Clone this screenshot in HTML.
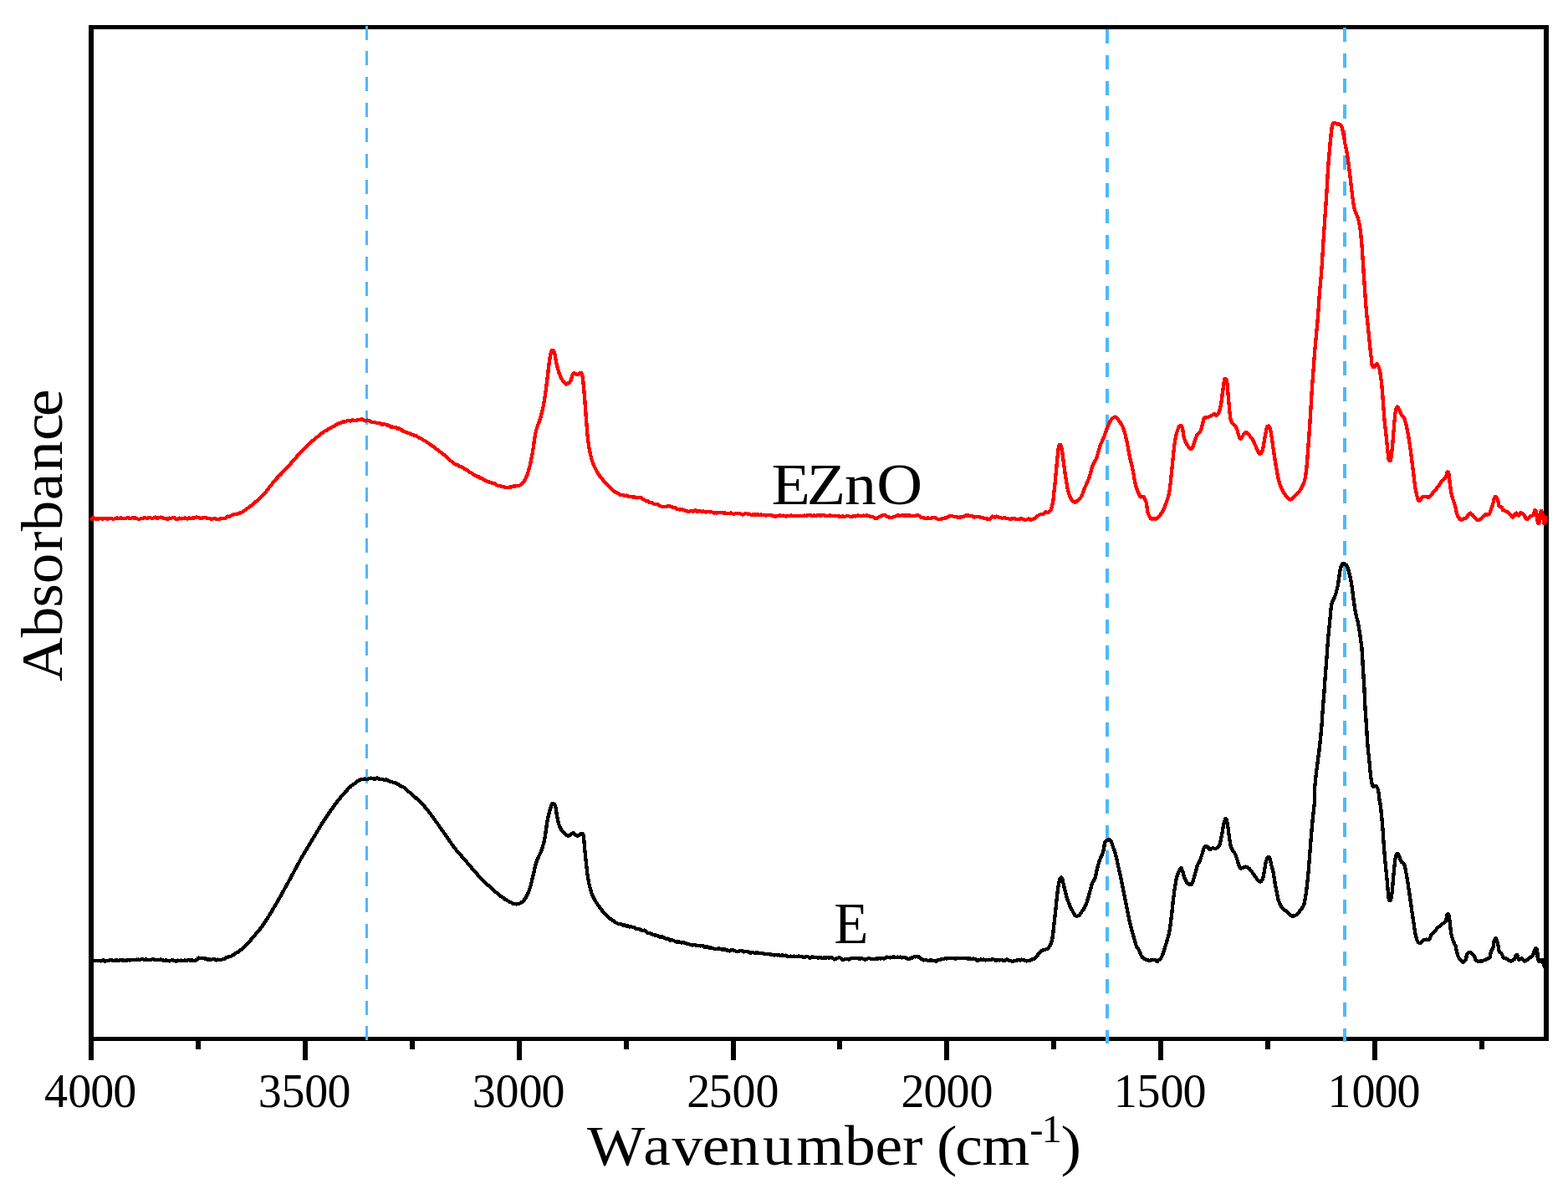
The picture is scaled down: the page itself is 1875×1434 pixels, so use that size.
<!DOCTYPE html>
<html lang="en">
<head>
<meta charset="utf-8">
<title>FTIR absorbance spectra of E and EZnO</title>
<style>
html,body{margin:0;padding:0;background:#fff;}
body{width:1875px;height:1434px;overflow:hidden;}
svg{display:block;}
text{font-family:"Liberation Serif","DejaVu Serif",serif;fill:#000;}
</style>
</head>
<body>
<svg width="1875" height="1434" viewBox="0 0 1875 1434">
<rect x="0" y="0" width="1875" height="1434" fill="#ffffff"/>
<g fill="#000" shape-rendering="crispEdges">
<rect x="106" y="30" width="1746" height="5"/>
<rect x="106" y="1240" width="1746" height="5"/>
<rect x="106" y="30" width="6" height="1215"/>
<rect x="1846" y="30" width="6" height="1215"/>
<rect x="106.00" y="1242" width="6" height="26.00"/>
<rect x="234.00" y="1242" width="6" height="13.00"/>
<rect x="362.00" y="1242" width="6" height="26.00"/>
<rect x="490.00" y="1242" width="6" height="13.00"/>
<rect x="618.00" y="1242" width="6" height="26.00"/>
<rect x="746.00" y="1242" width="6" height="13.00"/>
<rect x="874.00" y="1242" width="6" height="26.00"/>
<rect x="1001.00" y="1242" width="6" height="13.00"/>
<rect x="1129.00" y="1242" width="6" height="26.00"/>
<rect x="1257.00" y="1242" width="6" height="13.00"/>
<rect x="1385.00" y="1242" width="6" height="26.00"/>
<rect x="1513.00" y="1242" width="6" height="13.00"/>
<rect x="1641.00" y="1242" width="6" height="26.00"/>
<rect x="1769.00" y="1242" width="6" height="13.00"/>
</g>
<g stroke="#4db9ff" fill="none" stroke-dasharray="17 13.687" shape-rendering="crispEdges">
<line x1="438.5" y1="30.5" x2="438.5" y2="1244" stroke-width="3"/>
<line x1="1324" y1="35.3" x2="1324" y2="1248" stroke-width="4"/>
<line x1="1608" y1="33" x2="1608" y2="1246" stroke-width="4"/>
</g>
<defs>
<path id="c-ezno" d="M108.1 621.6L109.1 621.2L110.1 620.6L111.1 619.5L112.1 619.4L113.1 620.3L114.1 620.5L115.1 620.6L116.1 620.6L117.1 620.5L118.1 620.5L119.1 620.1L120.1 619.8L121.1 620.1L122.1 620.7L123.1 620.7L124.1 620.1L125.1 619.9L126.1 620.0L127.1 620.4L128.1 620.9L129.1 620.5L130.1 620.1L131.1 620.3L132.1 620.2L133.1 619.8L134.1 620.2L135.1 620.8L136.1 620.7L137.1 620.1L138.1 619.8L139.1 619.6L140.1 619.6L141.1 620.2L142.1 620.3L143.1 619.8L144.1 619.4L145.1 619.6L146.1 620.1L147.1 620.0L148.1 619.9L149.1 620.2L150.1 620.2L151.1 619.7L152.1 619.3L153.1 619.2L154.1 619.4L155.1 620.0L156.1 620.2L157.1 619.7L158.1 619.2L159.1 619.1L160.1 619.5L161.1 619.6L162.1 619.6L163.1 619.7L164.1 620.3L165.1 620.9L166.1 621.0L167.1 620.6L168.1 620.2L169.1 619.9L170.1 619.9L171.1 619.8L172.1 619.5L173.1 619.2L174.1 619.4L175.1 619.8L176.1 619.8L177.1 619.4L178.1 619.2L179.1 619.1L180.1 619.4L181.1 619.8L182.1 619.8L183.1 619.6L184.1 619.2L185.1 618.6L186.1 618.8L187.1 619.6L188.1 619.9L189.1 619.3L190.1 619.1L191.1 619.1L192.1 618.6L193.1 618.7L194.1 619.2L195.1 619.6L196.1 620.0L197.1 620.3L198.1 620.2L199.1 620.4L200.1 621.0L201.1 620.5L202.1 619.6L203.1 619.8L204.1 620.1L205.1 619.6L206.1 619.2L207.1 619.2L208.1 619.2L209.1 619.6L210.1 620.4L211.1 621.2L212.1 621.1L213.1 620.2L214.1 619.6L215.1 620.0L216.1 620.4L217.1 620.4L218.1 620.1L219.1 619.8L220.1 619.8L221.1 619.5L222.1 619.8L223.1 620.4L224.1 620.7L225.1 620.3L226.1 619.5L227.1 619.8L228.1 620.1L229.1 619.8L230.0 619.5L231.0 619.3L232.0 619.4L233.0 619.3L234.0 618.6L235.0 618.5L236.0 618.6L237.0 618.8L238.0 619.3L239.0 619.5L240.0 619.9L241.0 619.9L242.0 619.5L243.0 619.1L244.0 618.9L245.0 618.9L246.0 619.3L247.0 619.6L248.0 619.7L249.0 619.9L250.0 620.0L251.0 619.9L252.0 620.2L253.0 621.0L253.9 621.0L254.9 620.3L255.9 620.0L256.9 620.1L257.9 620.5L258.9 621.1L259.9 621.2L260.9 621.3L261.9 621.2L262.9 620.4L263.9 619.9L264.9 620.1L265.9 620.1L266.9 619.8L267.9 619.8L268.8 619.9L269.8 619.6L270.8 619.0L271.7 618.0L272.7 617.6L273.7 617.8L274.6 617.7L275.6 617.1L276.5 616.5L277.5 616.1L278.4 615.7L279.4 615.5L280.3 615.3L281.3 615.1L282.2 614.9L283.2 614.9L284.1 614.5L285.0 614.3L286.0 613.9L286.9 613.4L287.8 613.2L288.8 613.0L289.6 612.5L290.5 611.9L291.4 611.3L292.3 610.6L293.1 610.1L293.9 609.5L294.7 608.6L295.6 607.9L296.4 607.5L297.2 607.1L298.0 606.4L298.8 605.7L299.6 605.2L300.4 604.7L301.1 604.1L301.9 603.5L302.7 602.8L303.5 602.1L304.2 601.4L305.0 600.9L305.8 600.2L306.5 599.6L307.3 599.0L308.0 598.5L308.8 597.8L309.5 597.1L310.2 596.3L311.0 595.6L311.7 594.8L312.4 594.1L313.1 593.3L313.8 592.7L314.5 592.0L315.2 591.3L315.9 590.6L316.5 589.8L317.2 589.1L317.8 588.3L318.5 587.6L319.1 586.8L319.7 586.0L320.3 585.2L320.9 584.4L321.5 583.6L322.1 582.8L322.7 582.0L323.4 581.2L324.0 580.4L324.6 579.7L325.2 578.9L325.8 578.1L326.5 577.3L327.1 576.6L327.8 575.8L328.4 575.0L329.1 574.2L329.7 573.4L330.4 572.7L331.1 571.9L331.8 571.2L332.5 570.5L333.1 569.8L333.8 569.1L334.5 568.5L335.2 567.8L335.9 567.1L336.6 566.3L337.3 565.6L338.0 564.9L338.7 564.2L339.4 563.4L340.1 562.7L340.8 561.9L341.5 561.2L342.1 560.5L342.8 559.8L343.5 559.1L344.2 558.3L344.9 557.5L345.5 556.8L346.2 556.0L346.9 555.3L347.6 554.6L348.2 553.8L348.9 553.1L349.5 552.3L350.2 551.6L350.8 550.9L351.5 550.1L352.2 549.4L352.8 548.6L353.5 547.8L354.1 547.0L354.8 546.3L355.4 545.6L356.1 544.8L356.8 544.0L357.4 543.3L358.1 542.5L358.7 541.8L359.4 541.1L360.1 540.4L360.8 539.6L361.5 538.9L362.1 538.1L362.8 537.5L363.5 536.8L364.2 536.0L364.9 535.3L365.7 534.6L366.4 533.8L367.1 533.1L367.8 532.4L368.5 531.7L369.2 531.1L370.0 530.5L370.7 529.6L371.5 528.8L372.2 528.1L372.9 527.7L373.7 527.1L374.5 526.6L375.2 526.0L376.0 525.4L376.7 524.6L377.5 523.9L378.3 523.3L379.1 522.8L379.9 522.3L380.6 521.6L381.4 520.8L382.2 519.9L383.0 519.2L383.8 518.6L384.7 518.1L385.5 517.7L386.3 517.2L387.1 516.6L387.9 515.9L388.8 515.4L389.6 515.1L390.5 514.7L391.3 514.1L392.2 513.4L393.0 513.0L393.9 512.5L394.7 512.1L395.6 511.7L396.5 511.2L397.4 510.6L398.2 510.1L399.1 509.8L400.0 509.5L400.9 508.9L401.8 508.2L402.7 507.6L403.6 507.1L404.5 506.7L405.5 506.5L406.4 506.3L407.3 506.0L408.3 505.5L409.2 504.9L410.2 504.4L411.2 504.5L412.2 504.7L413.1 504.3L414.1 503.6L415.1 503.2L416.1 502.7L417.1 502.7L418.1 503.4L419.1 503.6L420.1 502.9L421.1 502.4L422.0 502.4L423.0 502.9L424.0 502.9L425.0 503.1L426.0 503.4L427.0 502.8L428.0 501.8L429.0 501.7L430.0 501.8L431.0 501.7L432.0 501.3L433.0 501.4L434.0 502.0L435.0 502.6L436.0 503.0L437.0 503.4L438.0 503.4L439.0 502.6L440.0 502.6L441.0 503.4L442.0 503.6L442.9 503.7L443.9 504.5L444.9 505.2L445.9 505.3L446.9 505.0L447.8 505.0L448.8 505.3L449.8 505.7L450.8 506.0L451.7 506.1L452.7 505.9L453.7 505.8L454.7 506.5L455.6 507.4L456.6 507.7L457.6 507.6L458.5 507.3L459.5 507.2L460.5 507.4L461.4 508.0L462.4 508.5L463.4 508.6L464.3 508.5L465.3 508.9L466.3 509.9L467.2 510.6L468.2 510.5L469.2 510.6L470.1 510.9L471.1 511.1L472.0 511.0L473.0 510.9L473.9 511.7L474.9 512.6L475.9 512.8L476.8 512.6L477.8 512.6L478.7 513.1L479.7 513.6L480.6 514.1L479.6 514.0L479.6 514.4L480.5 514.8L481.4 515.3L482.4 515.6L483.3 515.9L484.3 516.3L485.2 516.9L486.1 517.3L487.1 517.6L488.0 517.6L489.0 517.8L489.9 518.3L490.9 518.9L491.8 519.4L492.7 519.7L493.7 519.9L494.6 520.2L495.5 520.6L496.4 520.8L497.3 521.0L498.2 521.6L499.1 522.3L500.0 522.9L500.8 523.3L501.7 523.7L502.6 524.0L503.5 524.5L504.3 525.2L505.2 525.9L506.0 526.4L506.9 526.7L507.7 527.0L508.6 527.5L509.4 528.2L510.3 528.8L511.1 529.2L511.9 529.7L512.8 530.2L513.6 530.8L514.4 531.4L515.2 532.2L516.1 533.0L516.9 533.5L517.7 533.9L518.5 534.3L519.3 534.8L520.1 535.5L520.9 536.2L521.7 536.9L522.5 537.5L523.3 538.1L524.1 538.8L524.9 539.5L525.7 540.1L526.5 540.5L527.3 540.9L528.1 541.6L528.8 542.5L529.6 543.1L530.4 543.7L531.2 544.2L532.0 544.8L532.8 545.4L533.5 546.1L534.3 546.7L535.0 547.4L535.8 548.0L536.5 548.6L537.2 549.3L538.0 550.1L538.8 550.9L539.5 551.5L540.3 552.1L541.2 552.9L542.0 553.7L542.8 554.2L543.7 554.8L544.6 555.2L545.4 555.6L546.3 556.0L547.2 556.1L548.1 556.3L549.0 557.2L549.8 558.0L550.7 558.2L551.6 558.5L552.5 558.7L553.4 559.1L554.3 559.7L555.1 560.4L556.0 560.9L556.9 561.6L557.7 562.1L558.6 562.3L559.4 562.6L560.3 563.3L561.1 564.2L562.0 565.0L562.8 565.2L563.7 565.5L564.5 566.2L565.4 567.0L566.2 567.5L567.1 567.8L567.9 568.1L568.8 568.8L569.6 569.6L570.5 570.2L571.4 570.5L572.2 570.4L573.1 570.6L574.0 571.5L574.9 571.9L575.8 571.9L576.7 572.5L577.7 573.3L578.6 573.8L579.5 574.2L580.4 574.7L581.3 575.1L582.3 575.6L583.2 575.9L584.1 576.3L585.1 576.6L586.0 576.7L587.0 577.1L587.9 577.6L588.8 577.7L589.8 577.7L590.7 577.9L591.7 578.5L592.6 579.4L593.5 580.1L594.5 580.6L595.4 580.8L596.3 580.9L597.3 580.9L598.2 581.1L599.2 581.5L600.1 581.9L601.1 582.2L602.1 582.1L603.0 582.5L604.0 582.8L605.0 582.7L606.0 582.8L607.0 583.1L608.0 583.1L609.0 582.8L610.0 582.5L611.0 582.4L612.0 582.4L613.0 581.9L614.0 581.2L614.9 581.4L615.9 581.7L616.9 581.3L617.9 580.9L618.8 581.0L619.8 581.0L620.8 580.8L621.7 580.4L622.6 579.8L623.5 579.1L624.3 578.4L625.0 577.7L625.7 577.0L626.3 576.2L626.9 575.3L627.4 574.5L627.9 573.6L628.4 572.7L628.8 571.8L629.2 570.9L629.6 570.0L630.0 569.1L630.4 568.1L630.7 567.2L631.0 566.3L631.3 565.3L631.6 564.3L631.9 563.4L632.2 562.4L632.4 561.5L632.7 560.5L633.0 559.5L633.2 558.6L633.5 557.6L633.7 556.6L633.9 555.7L634.2 554.7L634.4 553.7L634.6 552.7L634.8 551.8L635.0 550.8L635.2 549.8L635.4 548.8L635.6 547.8L635.8 546.8L636.0 545.9L636.2 544.9L636.3 543.9L636.5 542.9L636.7 541.9L636.9 540.9L637.0 540.0L637.2 539.0L637.3 538.0L637.5 537.0L637.6 536.0L637.8 535.0L637.9 534.0L638.0 533.0L638.2 532.0L638.3 531.0L638.4 530.1L638.6 529.1L638.7 528.1L638.8 527.1L639.0 526.1L639.1 525.1L639.3 524.1L639.4 523.1L639.6 522.1L639.8 521.2L639.9 520.2L640.1 519.2L640.3 518.2L640.6 517.2L640.8 516.3L641.1 515.3L641.3 514.3L641.6 513.4L641.9 512.4L642.2 511.5L642.5 510.5L642.9 509.6L643.2 508.6L643.5 507.7L643.9 506.8L644.2 505.8L644.5 504.9L644.9 503.9L645.2 503.0L645.5 502.0L645.8 501.1L646.1 500.1L646.4 499.2L646.6 498.2L646.9 497.2L647.1 496.3L647.4 495.3L647.6 494.3L647.9 493.4L648.1 492.4L648.4 491.4L648.6 490.4L648.8 489.5L649.0 488.5L649.2 487.5L649.5 486.5L649.7 485.6L649.9 484.6L650.0 483.6L650.2 482.6L650.4 481.6L650.6 480.6L650.8 479.7L650.9 478.7L651.1 477.7L651.3 476.7L651.4 475.7L651.6 474.7L651.7 473.7L651.9 472.7L652.0 471.8L652.2 470.8L652.3 469.8L652.4 468.8L652.6 467.8L652.7 466.8L652.9 465.8L653.0 464.8L653.1 463.8L653.2 462.8L653.4 461.8L653.5 460.9L653.6 459.9L653.8 458.9L653.9 457.9L654.0 456.9L654.1 455.9L654.3 454.9L654.4 453.9L654.5 452.9L654.6 451.9L654.7 450.9L654.9 449.9L655.0 448.9L655.1 448.0L655.2 447.0L655.3 446.0L655.4 445.0L655.5 444.0L655.6 443.0L655.7 442.0L655.8 441.0L655.9 440.0L656.1 439.0L656.2 438.0L656.3 437.0L656.4 436.0L656.5 435.0L656.7 434.0L656.8 433.1L656.9 432.1L657.1 431.1L657.2 430.1L657.4 429.1L657.5 428.1L657.7 427.1L657.9 426.1L658.1 425.2L658.2 424.2L658.4 423.2L658.7 422.2L658.9 421.2L659.2 420.3L659.5 419.3L660.3 418.7L661.2 419.0L661.9 419.7L662.4 420.6L662.7 421.5L663.0 422.4L663.3 423.4L663.5 424.4L663.7 425.4L663.9 426.4L664.0 427.3L664.2 428.3L664.4 429.3L664.6 430.3L664.7 431.3L664.9 432.3L665.1 433.2L665.3 434.2L665.5 435.2L665.7 436.2L665.9 437.2L666.2 438.1L666.5 439.1L666.7 440.1L667.0 441.0L667.3 442.0L667.6 442.9L667.9 443.9L668.2 444.8L668.5 445.8L668.9 446.7L669.2 447.7L669.6 448.6L670.0 449.5L670.3 450.4L670.8 451.3L671.2 452.2L671.7 453.1L672.2 454.0L672.7 454.8L673.3 455.6L673.9 456.4L674.6 457.2L675.3 458.0L676.0 458.9L677.0 459.5L678.0 459.4L678.9 458.8L679.8 458.2L680.6 457.5L681.3 456.8L681.9 456.0L682.4 455.1L682.8 454.2L683.2 453.3L683.4 452.3L683.7 451.4L684.0 450.4L684.2 449.4L684.5 448.5L684.9 447.6L685.5 446.7L686.4 446.2L687.3 446.3L688.2 446.9L688.9 447.6L689.8 447.9L690.7 448.0L691.6 448.1L692.3 447.5L692.9 446.7L693.6 446.1L694.5 445.9L695.4 446.3L695.8 447.1L696.1 448.1L696.3 449.1L696.5 450.0L696.7 451.0L696.8 452.0L697.0 453.0L697.1 454.0L697.2 455.0L697.3 456.0L697.4 457.0L697.5 458.0L697.6 459.0L697.7 460.0L697.8 461.0L697.9 462.0L698.0 463.0L698.1 464.0L698.2 465.0L698.3 465.9L698.3 466.9L698.4 467.9L698.5 468.9L698.6 469.9L698.7 470.9L698.8 471.9L698.9 472.9L698.9 473.9L699.0 474.9L699.1 475.9L699.2 476.9L699.2 477.9L699.3 478.9L699.4 479.9L699.4 480.9L699.5 481.9L699.6 482.9L699.7 483.9L699.7 484.9L699.8 485.9L699.9 486.9L699.9 487.9L700.0 488.9L700.1 489.9L700.2 490.9L700.2 491.9L700.3 492.9L700.4 493.9L700.5 494.9L700.5 495.9L700.6 496.9L700.7 497.9L700.8 498.9L700.8 499.8L700.9 500.8L701.0 501.8L701.1 502.8L701.1 503.8L701.2 504.8L701.3 505.8L701.4 506.8L701.4 507.8L701.5 508.8L701.6 509.8L701.7 510.8L701.7 511.8L701.8 512.8L701.9 513.8L702.0 514.8L702.1 515.8L702.1 516.8L702.2 517.8L702.3 518.8L702.4 519.8L702.5 520.8L702.6 521.8L702.7 522.8L702.8 523.8L702.9 524.8L703.1 525.8L703.2 526.7L703.3 527.7L703.4 528.7L703.6 529.7L703.7 530.7L703.9 531.7L704.0 532.7L704.2 533.7L704.3 534.7L704.5 535.6L704.7 536.6L704.8 537.6L705.0 538.6L705.2 539.6L705.4 540.6L705.6 541.5L705.8 542.5L706.0 543.5L706.2 544.5L706.5 545.4L706.7 546.4L707.0 547.4L707.2 548.4L707.5 549.3L707.8 550.3L708.1 551.2L708.4 552.2L708.7 553.1L709.1 554.1L709.4 555.0L709.8 555.9L710.2 556.8L710.6 557.7L711.0 558.7L711.5 559.6L711.9 560.4L712.4 561.3L712.9 562.2L713.3 563.1L713.8 564.0L714.3 564.8L714.9 565.7L715.4 566.5L715.9 567.4L716.5 568.2L717.0 569.0L717.6 569.9L718.2 570.7L718.8 571.5L719.4 572.2L720.1 573.0L720.7 573.7L721.4 574.5L722.0 575.2L722.7 575.9L723.4 576.7L724.1 577.5L724.7 578.2L725.4 579.0L726.1 579.7L726.7 580.4L727.4 581.2L728.1 581.8L728.8 582.5L729.5 583.3L730.2 584.1L731.0 584.8L731.7 585.4L732.5 586.1L733.3 586.8L734.1 587.6L734.9 588.1L735.7 588.5L736.6 588.8L737.4 589.1L738.3 589.6L739.1 590.1L740.0 590.9L740.9 591.6L741.9 592.0L742.8 592.2L743.8 592.2L744.8 592.0L745.7 592.2L746.7 592.8L747.7 593.1L748.7 592.8L749.7 592.6L750.7 593.2L751.7 593.8L752.7 594.0L753.7 594.0L754.7 593.7L755.7 594.0L756.7 594.6L757.6 594.5L758.6 594.3L759.6 594.6L760.5 595.2L761.5 595.4L762.5 595.2L763.4 595.1L764.4 595.2L765.3 595.1L766.3 595.1L767.2 595.6L768.1 596.4L769.1 597.1L770.0 597.7L771.0 598.1L771.9 598.8L772.8 599.4L773.8 599.3L774.7 599.4L775.6 600.3L776.5 601.2L777.5 601.3L778.4 600.9L779.3 601.0L780.2 601.7L781.2 602.4L782.1 602.8L783.0 602.9L784.0 603.1L784.9 603.3L785.9 603.2L786.8 603.4L787.8 604.4L788.8 604.8L789.8 605.0L790.8 605.6L791.8 606.0L792.8 605.9L793.8 605.9L794.7 605.9L795.7 606.1L796.7 606.3L797.7 605.9L798.3 605.3L799.3 605.1L800.3 605.4L801.2 605.6L802.2 605.9L803.2 606.3L804.2 606.5L805.2 606.9L806.1 606.9L807.1 606.8L808.1 607.7L809.1 609.0L810.0 609.1L811.0 608.7L812.0 609.3L813.0 609.5L814.0 608.9L814.9 609.0L815.9 609.7L816.9 609.8L817.9 609.9L818.9 610.5L819.9 610.7L820.9 611.0L821.9 611.5L822.8 611.6L823.8 611.8L824.8 611.4L825.8 610.9L826.8 611.0L827.8 611.4L828.8 611.6L829.8 611.2L830.8 610.6L831.8 610.5L832.8 611.1L833.8 611.9L834.8 611.9L835.8 611.1L836.8 611.1L837.8 611.5L838.8 611.8L839.8 611.9L840.8 611.6L841.8 611.6L842.8 612.3L843.8 612.7L844.8 612.4L845.7 612.2L846.7 612.0L847.7 612.0L848.7 612.3L849.7 612.4L850.7 612.1L851.7 612.5L852.7 613.3L853.7 613.5L854.7 613.3L855.7 613.3L856.7 613.6L857.7 613.5L858.7 613.0L859.7 612.8L860.7 613.0L861.7 613.3L862.7 613.2L863.7 613.0L864.7 613.5L865.7 613.7L866.7 613.5L867.7 613.8L868.7 614.2L869.7 614.3L870.7 614.2L871.7 614.1L872.7 613.8L873.7 613.5L874.7 613.6L875.7 614.2L876.7 614.6L877.7 614.7L878.7 614.4L879.7 614.0L880.7 614.2L881.7 614.3L882.7 614.1L883.7 614.1L884.7 614.3L885.7 614.6L886.7 615.0L887.7 615.5L888.7 615.4L889.7 614.9L890.7 614.5L891.7 614.2L892.7 614.2L893.7 614.6L894.7 614.7L895.7 614.5L896.7 615.0L897.7 615.7L898.7 615.7L899.7 615.5L900.7 615.5L901.7 615.4L902.7 615.4L903.7 615.8L904.7 615.8L905.7 615.2L906.7 615.1L907.7 616.0L908.7 616.3L909.6 615.6L910.6 615.6L911.6 616.1L912.6 615.9L913.6 615.7L914.6 616.2L915.6 616.6L916.6 616.4L917.6 616.3L918.6 616.2L919.6 616.2L920.6 616.2L921.6 616.0L922.6 616.3L923.6 616.8L924.6 617.0L925.6 617.3L926.6 617.6L927.6 617.7L928.6 617.4L929.6 617.0L930.6 616.8L931.6 616.6L932.6 616.4L933.6 616.7L934.6 617.2L935.6 617.1L936.6 616.6L937.6 616.7L938.6 617.2L939.6 617.4L940.6 617.4L941.6 617.1L942.6 616.9L943.6 616.9L944.6 616.7L945.6 616.5L946.6 616.7L947.6 617.0L948.6 617.1L949.6 616.9L950.6 616.9L951.6 617.0L952.6 616.9L953.6 616.7L954.6 616.8L955.6 616.9L956.6 616.9L957.6 617.1L958.6 617.3L959.6 617.3L960.6 616.8L961.6 616.4L962.6 616.6L963.6 616.9L964.6 616.8L965.6 616.2L966.6 616.0L967.6 616.1L968.6 616.2L969.6 616.2L970.6 616.7L971.6 616.9L972.6 616.6L973.6 616.4L974.6 616.6L975.6 617.0L976.6 616.7L977.6 616.1L978.6 615.9L979.6 616.3L980.6 616.8L981.6 616.8L982.6 616.2L983.6 615.9L984.6 616.1L985.6 616.5L986.6 616.6L987.6 616.7L988.6 617.0L989.6 617.2L990.6 617.0L991.6 616.5L992.6 616.4L993.6 616.8L994.6 616.9L995.6 616.9L996.6 616.9L997.6 616.9L998.6 617.0L999.6 617.2L1000.6 617.3L1001.6 617.2L1002.6 617.3L1003.6 617.6L1004.6 617.6L1005.6 617.9L1006.6 617.8L1007.6 617.1L1008.6 617.5L1009.6 618.2L1010.6 617.9L1011.6 617.5L1012.6 617.2L1013.6 616.9L1014.6 617.1L1015.6 617.6L1016.6 617.8L1017.6 618.1L1018.6 618.3L1019.6 617.5L1020.6 616.7L1020.4 616.8L1021.4 616.7L1022.4 617.3L1023.4 617.6L1024.4 617.2L1025.4 616.6L1026.4 616.6L1027.4 617.1L1028.4 617.2L1029.4 616.7L1030.4 616.8L1031.4 616.9L1032.4 616.6L1033.4 616.7L1034.4 617.0L1035.4 616.7L1036.4 616.4L1037.4 616.7L1038.4 617.0L1039.3 617.1L1040.3 617.5L1041.3 618.0L1042.2 617.9L1043.1 617.8L1044.1 618.2L1045.0 618.8L1045.9 619.4L1046.9 620.1L1047.9 620.2L1048.9 619.4L1049.8 618.8L1050.7 618.5L1051.6 618.2L1052.4 617.8L1053.2 617.4L1054.1 616.9L1055.0 616.5L1056.0 616.3L1057.0 616.0L1058.0 616.0L1058.9 616.6L1059.9 617.3L1060.8 617.9L1061.7 618.3L1062.7 618.5L1063.6 618.6L1064.6 618.7L1065.6 618.9L1066.6 618.9L1067.5 618.5L1068.4 618.0L1069.4 617.7L1070.3 617.6L1071.3 617.3L1072.3 616.8L1073.3 616.5L1074.3 616.3L1075.3 616.6L1076.3 617.0L1077.3 616.6L1078.3 616.1L1079.3 616.3L1080.3 616.5L1081.3 616.3L1082.3 616.5L1083.3 616.8L1084.3 616.5L1085.3 616.5L1086.3 616.5L1087.3 616.4L1088.3 616.5L1089.3 616.8L1090.3 616.7L1091.3 616.7L1092.3 617.0L1093.3 617.3L1094.3 617.3L1095.3 616.8L1096.3 616.3L1097.3 616.1L1098.3 616.3L1099.3 616.9L1100.2 617.5L1100.8 618.2L1101.5 618.9L1102.5 619.0L1103.5 619.2L1104.5 619.4L1105.5 619.5L1106.5 620.0L1107.5 620.2L1108.5 619.7L1109.5 619.4L1110.5 619.8L1111.5 620.2L1112.5 620.2L1113.5 619.8L1114.5 619.1L1115.5 618.7L1116.5 618.7L1117.5 618.9L1118.5 619.3L1119.5 619.9L1120.5 620.5L1121.4 620.9L1122.4 620.8L1123.4 620.7L1124.4 621.0L1125.4 621.0L1126.4 620.4L1127.4 620.0L1128.4 620.1L1129.3 619.9L1130.2 619.5L1131.2 619.4L1132.1 619.3L1133.0 618.6L1133.9 618.0L1134.9 617.6L1135.9 617.2L1136.9 617.1L1137.9 617.1L1138.9 617.2L1139.9 617.6L1140.9 618.1L1141.9 618.4L1142.9 618.3L1143.9 618.0L1144.9 618.3L1145.8 618.8L1146.8 618.9L1147.8 618.5L1148.8 618.4L1149.8 618.4L1150.8 618.1L1151.8 617.9L1152.8 617.7L1153.7 617.0L1154.7 616.4L1155.7 616.5L1156.7 616.5L1157.7 616.4L1158.7 616.8L1159.7 617.2L1160.7 617.2L1161.7 616.9L1162.7 617.2L1163.7 618.1L1164.7 618.6L1165.6 618.4L1166.6 617.9L1167.6 618.0L1168.6 618.3L1169.6 618.2L1170.6 618.0L1171.6 618.3L1172.5 618.7L1173.5 618.8L1174.5 619.0L1175.5 619.4L1176.5 619.7L1177.4 619.9L1178.4 620.2L1179.4 620.5L1180.4 620.4L1181.4 620.6L1182.4 621.1L1183.4 621.0L1184.3 620.2L1185.0 619.4L1185.8 618.5L1186.8 617.6L1187.8 618.0L1188.8 618.7L1189.8 618.9L1190.8 618.2L1191.8 617.6L1192.8 617.8L1193.8 618.7L1194.8 619.1L1195.8 618.9L1196.8 619.0L1197.8 619.6L1198.7 619.9L1199.7 619.4L1200.7 618.9L1201.7 619.4L1202.7 620.1L1203.7 620.2L1204.7 619.9L1205.7 620.1L1206.7 620.6L1207.7 620.7L1208.7 620.4L1209.7 620.4L1210.7 620.5L1211.7 620.2L1212.7 620.1L1213.7 620.5L1214.7 620.8L1215.7 621.0L1216.7 621.2L1217.7 621.2L1218.7 620.9L1219.7 620.6L1220.7 620.4L1221.7 620.3L1222.7 620.6L1223.7 620.9L1224.7 621.3L1225.7 621.8L1226.7 621.9L1227.7 621.4L1228.7 620.8L1229.7 620.4L1230.7 620.7L1231.7 621.4L1232.7 621.7L1233.7 621.5L1234.7 621.1L1235.6 620.7L1236.6 620.3L1237.5 619.8L1238.3 619.2L1239.1 618.5L1239.9 617.7L1240.6 617.1L1241.4 616.6L1242.2 616.2L1243.0 615.9L1243.9 615.3L1244.9 614.7L1245.8 614.9L1246.8 615.0L1247.8 614.7L1248.8 613.5L1249.8 612.5L1250.8 612.5L1251.7 613.0L1252.7 613.0L1253.6 612.6L1254.4 612.1L1255.2 611.6L1255.8 610.9L1256.3 610.1L1256.8 609.2L1257.1 608.3L1257.5 607.3L1257.7 606.4L1258.0 605.4L1258.2 604.4L1258.5 603.5L1258.7 602.5L1258.9 601.5L1259.1 600.5L1259.2 599.5L1259.4 598.5L1259.5 597.5L1259.6 596.6L1259.7 595.6L1259.8 594.6L1259.9 593.6L1260.0 592.6L1260.1 591.6L1260.2 590.6L1260.3 589.6L1260.4 588.6L1260.5 587.6L1260.6 586.6L1260.8 585.6L1260.9 584.6L1261.0 583.6L1261.1 582.6L1261.2 581.6L1261.3 580.6L1261.4 579.6L1261.5 578.7L1261.6 577.7L1261.7 576.7L1261.8 575.7L1261.9 574.7L1262.0 573.7L1262.1 572.7L1262.2 571.7L1262.2 570.7L1262.3 569.7L1262.4 568.7L1262.5 567.7L1262.6 566.7L1262.7 565.7L1262.8 564.7L1262.9 563.7L1263.0 562.7L1263.1 561.7L1263.2 560.7L1263.3 559.7L1263.4 558.7L1263.4 557.7L1263.5 556.8L1263.6 555.8L1263.7 554.8L1263.8 553.8L1263.9 552.8L1264.0 551.8L1264.1 550.8L1264.2 549.8L1264.3 548.8L1264.4 547.8L1264.5 546.8L1264.6 545.8L1264.7 544.8L1264.8 543.8L1264.9 542.8L1265.0 541.8L1265.1 540.8L1265.2 539.8L1265.3 538.8L1265.5 537.8L1265.6 536.9L1265.7 535.9L1265.9 534.9L1266.1 533.9L1266.4 532.9L1266.7 532.0L1267.3 531.8L1268.1 531.7L1268.5 532.5L1268.8 533.5L1269.1 534.5L1269.3 535.4L1269.5 536.4L1269.7 537.4L1269.9 538.4L1270.0 539.4L1270.2 540.4L1270.3 541.3L1270.5 542.3L1270.6 543.3L1270.7 544.3L1270.9 545.3L1271.0 546.3L1271.1 547.3L1271.2 548.3L1271.4 549.3L1271.5 550.3L1271.6 551.3L1271.7 552.3L1271.9 553.2L1272.0 554.2L1272.1 555.2L1272.3 556.2L1272.4 557.2L1272.6 558.2L1272.7 559.2L1272.8 560.2L1273.0 561.2L1273.1 562.2L1273.2 563.2L1273.4 564.1L1273.5 565.1L1273.6 566.1L1273.8 567.1L1273.9 568.1L1274.1 569.1L1274.2 570.1L1274.4 571.1L1274.5 572.1L1274.7 573.0L1274.9 574.0L1275.0 575.0L1275.2 576.0L1275.3 577.0L1275.5 578.0L1275.6 579.0L1275.8 580.0L1276.0 580.9L1276.2 581.9L1276.3 582.9L1276.5 583.9L1276.7 584.9L1276.9 585.9L1277.1 586.8L1277.4 587.8L1277.6 588.8L1277.9 589.7L1278.2 590.7L1278.5 591.6L1278.9 592.6L1279.3 593.5L1279.7 594.4L1280.1 595.3L1280.6 596.2L1281.1 597.0L1281.6 597.9L1282.2 598.7L1282.8 599.5L1283.5 600.0L1284.3 600.4L1285.3 600.7L1286.2 600.6L1287.0 600.0L1287.7 599.3L1288.4 598.6L1289.2 598.1L1290.0 597.5L1290.7 596.8L1291.4 596.1L1292.1 595.2L1292.6 594.4L1293.2 593.6L1293.6 592.7L1294.0 591.8L1294.4 590.9L1294.8 589.9L1295.1 589.0L1295.5 588.1L1295.8 587.1L1296.2 586.2L1296.5 585.2L1296.9 584.3L1297.2 583.4L1297.6 582.4L1298.0 581.5L1298.4 580.6L1298.8 579.7L1299.2 578.8L1299.6 577.9L1300.1 577.0L1300.5 576.1L1300.9 575.1L1301.3 574.2L1301.6 573.3L1302.0 572.3L1302.3 571.4L1302.6 570.5L1302.9 569.5L1303.2 568.5L1303.5 567.6L1303.7 566.6L1304.0 565.7L1304.3 564.7L1304.5 563.7L1304.8 562.8L1305.1 561.8L1305.4 560.8L1305.6 559.9L1305.9 558.9L1306.3 558.0L1306.6 557.0L1307.0 556.1L1307.4 555.2L1307.8 554.3L1308.3 553.4L1308.8 552.6L1309.3 551.7L1309.8 550.8L1310.3 549.9L1310.7 549.0L1311.1 548.1L1311.4 547.2L1311.7 546.2L1312.0 545.3L1312.3 544.3L1312.6 543.3L1312.8 542.4L1313.1 541.4L1313.4 540.5L1313.6 539.5L1313.9 538.5L1314.2 537.6L1314.5 536.6L1314.7 535.6L1315.0 534.7L1315.3 533.7L1315.7 532.8L1316.0 531.9L1316.4 530.9L1316.8 530.0L1317.2 529.1L1317.6 528.2L1318.0 527.3L1318.4 526.4L1318.8 525.4L1319.2 524.5L1319.6 523.6L1320.0 522.7L1320.4 521.8L1320.7 520.8L1321.1 519.9L1321.4 518.9L1321.8 518.0L1322.1 517.1L1322.4 516.1L1322.8 515.2L1323.1 514.2L1323.5 513.3L1323.8 512.4L1324.2 511.4L1324.6 510.5L1325.0 509.6L1325.4 508.7L1325.8 507.8L1326.2 506.9L1326.6 506.0L1327.1 505.1L1327.5 504.2L1328.0 503.3L1328.5 502.4L1329.1 501.6L1329.7 500.8L1330.4 500.1L1331.1 499.6L1332.0 499.3L1333.0 498.6L1334.0 498.6L1334.8 499.4L1335.6 500.3L1336.3 501.2L1337.0 501.9L1337.6 502.7L1338.2 503.5L1338.8 504.3L1339.4 505.1L1340.0 505.9L1340.5 506.8L1341.0 507.6L1341.5 508.5L1342.0 509.4L1342.4 510.3L1342.8 511.2L1343.2 512.1L1343.6 513.1L1343.9 514.0L1344.2 514.9L1344.5 515.9L1344.8 516.9L1345.1 517.8L1345.3 518.8L1345.6 519.8L1345.8 520.7L1346.0 521.7L1346.3 522.7L1346.5 523.6L1346.7 524.6L1346.9 525.6L1347.2 526.6L1347.4 527.6L1347.6 528.5L1347.8 529.5L1348.0 530.5L1348.1 531.5L1348.3 532.5L1348.5 533.4L1348.7 534.4L1348.9 535.4L1349.0 536.4L1349.2 537.4L1349.4 538.4L1349.6 539.3L1349.8 540.3L1349.9 541.3L1350.1 542.3L1350.3 543.3L1350.5 544.3L1350.7 545.2L1350.9 546.2L1351.1 547.2L1351.4 548.2L1351.6 549.1L1351.8 550.1L1352.0 551.1L1352.3 552.1L1352.5 553.0L1352.7 554.0L1353.0 555.0L1353.2 556.0L1353.4 556.9L1353.6 557.9L1353.9 558.9L1354.1 559.9L1354.3 560.8L1354.5 561.8L1354.7 562.8L1354.9 563.8L1355.0 564.8L1355.2 565.7L1355.4 566.7L1355.6 567.7L1355.7 568.7L1355.9 569.7L1356.1 570.7L1356.2 571.7L1356.4 572.6L1356.6 573.6L1356.8 574.6L1356.9 575.6L1357.1 576.6L1357.3 577.6L1357.6 578.5L1357.8 579.5L1358.0 580.5L1358.3 581.4L1358.6 582.4L1358.9 583.4L1359.2 584.3L1359.5 585.2L1359.9 586.2L1360.2 587.1L1360.6 588.0L1361.0 589.0L1361.4 589.9L1361.8 590.8L1362.3 591.7L1362.8 592.6L1363.3 593.4L1363.9 594.3L1364.8 594.4L1365.8 593.9L1366.8 593.7L1367.7 594.5L1368.3 595.6L1368.9 596.5L1369.3 597.4L1369.7 598.3L1370.1 599.2L1370.4 600.2L1370.7 601.1L1370.9 602.1L1371.1 603.1L1371.3 604.1L1371.4 605.1L1371.5 606.1L1371.6 607.1L1371.7 608.1L1371.8 609.1L1371.9 610.0L1372.1 611.0L1372.3 612.0L1372.5 613.0L1372.9 613.9L1373.2 614.9L1373.6 615.8L1374.0 616.7L1374.5 617.6L1375.0 618.4L1375.6 619.3L1376.2 620.2L1377.0 620.7L1378.0 620.9L1379.0 620.3L1379.9 620.0L1380.9 620.5L1381.9 620.7L1382.8 620.3L1383.7 619.7L1384.5 619.0L1385.2 618.3L1385.9 617.5L1386.6 616.7L1387.3 615.9L1387.9 615.1L1388.5 614.3L1389.0 613.5L1389.6 612.6L1390.1 611.8L1390.6 610.9L1391.0 610.0L1391.4 609.1L1391.9 608.2L1392.3 607.3L1392.7 606.4L1393.0 605.4L1393.4 604.5L1393.8 603.6L1394.1 602.6L1394.5 601.7L1394.8 600.8L1395.1 599.8L1395.4 598.9L1395.8 597.9L1396.1 597.0L1396.4 596.0L1396.7 595.0L1396.9 594.1L1397.2 593.1L1397.4 592.1L1397.6 591.2L1397.8 590.2L1398.0 589.2L1398.2 588.2L1398.4 587.2L1398.6 586.3L1398.7 585.3L1398.8 584.3L1399.0 583.3L1399.1 582.3L1399.2 581.3L1399.3 580.3L1399.5 579.3L1399.6 578.3L1399.7 577.3L1399.8 576.3L1399.9 575.3L1400.0 574.3L1400.1 573.3L1400.2 572.4L1400.3 571.4L1400.4 570.4L1400.5 569.4L1400.6 568.4L1400.7 567.4L1400.8 566.4L1400.9 565.4L1401.0 564.4L1401.1 563.4L1401.2 562.4L1401.3 561.4L1401.4 560.4L1401.5 559.4L1401.6 558.4L1401.7 557.4L1401.8 556.4L1401.9 555.4L1402.0 554.4L1402.1 553.4L1402.2 552.5L1402.3 551.5L1402.4 550.5L1402.5 549.5L1402.6 548.5L1402.7 547.5L1402.8 546.5L1402.9 545.5L1403.0 544.5L1403.1 543.5L1403.2 542.5L1403.3 541.5L1403.4 540.5L1403.5 539.5L1403.6 538.5L1403.7 537.5L1403.8 536.5L1403.9 535.5L1404.1 534.6L1404.2 533.6L1404.3 532.6L1404.4 531.6L1404.6 530.6L1404.7 529.6L1404.9 528.6L1405.0 527.6L1405.2 526.6L1405.4 525.7L1405.6 524.7L1405.8 523.7L1406.0 522.7L1406.2 521.7L1406.4 520.8L1406.6 519.8L1406.9 518.8L1407.1 517.8L1407.4 516.9L1407.7 515.9L1408.0 515.0L1408.3 514.0L1408.7 513.1L1409.0 512.2L1409.4 511.2L1409.9 510.3L1410.4 509.5L1411.1 509.5L1412.1 509.5L1412.9 509.4L1413.4 510.2L1413.8 511.1L1414.0 512.1L1414.2 513.1L1414.3 514.1L1414.5 515.1L1414.6 516.1L1414.7 517.1L1414.8 518.1L1415.0 519.0L1415.1 520.0L1415.3 521.0L1415.5 522.0L1415.7 523.0L1416.0 523.9L1416.3 524.9L1416.7 525.8L1417.1 526.7L1417.4 527.7L1417.9 528.6L1418.3 529.5L1418.7 530.4L1419.2 531.3L1419.7 532.1L1420.2 533.0L1420.7 533.8L1421.3 534.7L1421.9 535.5L1422.5 536.3L1423.2 536.8L1424.2 536.7L1425.0 536.7L1425.5 535.9L1426.0 535.0L1426.4 534.1L1426.8 533.2L1427.2 532.3L1427.5 531.3L1427.8 530.4L1428.1 529.4L1428.4 528.5L1428.7 527.5L1429.0 526.6L1429.4 525.6L1429.7 524.7L1430.0 523.7L1430.3 522.8L1430.7 521.8L1431.1 520.9L1431.5 520.0L1432.0 519.2L1432.7 518.7L1433.5 518.1L1434.3 517.4L1435.0 516.5L1435.5 515.7L1435.9 514.8L1436.3 513.8L1436.5 512.9L1436.8 511.9L1437.1 510.9L1437.3 510.0L1437.5 509.0L1437.7 508.0L1437.9 507.0L1438.2 506.1L1438.4 505.1L1438.6 504.1L1438.8 503.1L1439.1 502.2L1439.4 501.2L1439.8 500.3L1440.3 499.5L1441.2 499.7L1442.2 499.5L1443.1 498.8L1444.1 498.8L1445.1 498.7L1446.1 498.1L1447.0 498.1L1447.9 497.9L1448.7 497.1L1449.4 496.6L1450.3 496.1L1451.2 495.2L1452.2 495.1L1453.1 495.6L1454.0 496.4L1455.0 496.8L1455.9 496.0L1456.5 495.3L1457.0 494.4L1457.4 493.5L1457.7 492.6L1458.0 491.6L1458.3 490.7L1458.6 489.7L1458.9 488.8L1459.1 487.8L1459.3 486.8L1459.6 485.8L1459.8 484.9L1460.0 483.9L1460.1 482.9L1460.3 481.9L1460.5 480.9L1460.6 479.9L1460.7 478.9L1460.9 477.9L1461.0 477.0L1461.1 476.0L1461.3 475.0L1461.4 474.0L1461.5 473.0L1461.6 472.0L1461.7 471.0L1461.9 470.0L1462.0 469.0L1462.1 468.0L1462.3 467.0L1462.4 466.0L1462.6 465.1L1462.7 464.1L1462.8 463.1L1463.0 462.1L1463.1 461.1L1463.3 460.1L1463.4 459.1L1463.6 458.1L1463.7 457.1L1463.9 456.2L1464.1 455.2L1464.3 454.2L1464.5 453.2L1464.9 452.7L1465.8 452.9L1466.3 453.4L1466.7 454.4L1466.9 455.4L1467.1 456.4L1467.2 457.3L1467.4 458.3L1467.5 459.3L1467.6 460.3L1467.7 461.3L1467.8 462.3L1467.9 463.3L1467.9 464.3L1468.0 465.3L1468.1 466.3L1468.2 467.3L1468.3 468.3L1468.4 469.3L1468.4 470.3L1468.5 471.3L1468.6 472.3L1468.7 473.3L1468.8 474.3L1468.9 475.3L1469.0 476.3L1469.1 477.3L1469.1 478.3L1469.2 479.2L1469.3 480.2L1469.4 481.2L1469.5 482.2L1469.6 483.2L1469.7 484.2L1469.8 485.2L1469.9 486.2L1469.9 487.2L1470.0 488.2L1470.1 489.2L1470.2 490.2L1470.3 491.2L1470.4 492.2L1470.5 493.2L1470.6 494.2L1470.7 495.2L1470.8 496.2L1470.9 497.2L1471.0 498.2L1471.2 499.2L1471.3 500.1L1471.5 501.1L1471.7 502.1L1472.0 503.1L1472.3 504.0L1472.9 504.8L1473.5 505.6L1474.1 506.4L1474.7 507.3L1475.4 508.0L1476.1 508.7L1476.9 509.3L1477.5 510.1L1478.1 510.9L1478.5 511.8L1478.9 512.7L1479.2 513.6L1479.5 514.6L1479.8 515.6L1480.0 516.5L1480.3 517.5L1480.5 518.5L1480.8 519.4L1481.1 520.4L1481.4 521.3L1481.8 522.3L1482.2 523.2L1482.6 524.1L1483.3 525.0L1484.1 524.5L1484.7 523.6L1485.2 522.8L1485.7 521.9L1486.2 521.0L1486.7 520.2L1487.3 519.3L1487.8 518.5L1488.4 517.7L1489.0 517.2L1489.9 516.8L1490.8 517.0L1491.5 517.7L1492.2 518.4L1492.9 519.2L1493.5 520.0L1494.0 520.8L1494.6 521.7L1495.2 522.5L1495.7 523.3L1496.3 524.1L1497.0 524.8L1497.7 525.5L1498.3 526.4L1498.8 527.2L1499.2 528.2L1499.6 529.1L1500.0 530.0L1500.3 530.9L1500.7 531.8L1501.1 532.8L1501.5 533.7L1501.9 534.6L1502.2 535.5L1502.6 536.5L1503.1 537.4L1503.5 538.3L1504.0 539.2L1504.4 540.0L1504.9 540.9L1505.4 541.8L1506.1 542.5L1507.0 542.7L1507.9 542.2L1508.5 541.5L1509.0 540.6L1509.3 539.7L1509.7 538.8L1509.9 537.8L1510.1 536.8L1510.3 535.8L1510.5 534.8L1510.7 533.9L1510.9 532.9L1511.0 531.9L1511.2 530.9L1511.4 529.9L1511.5 528.9L1511.7 527.9L1511.9 527.0L1512.0 526.0L1512.2 525.0L1512.4 524.0L1512.6 523.0L1512.7 522.0L1512.9 521.1L1513.1 520.1L1513.3 519.1L1513.4 518.1L1513.6 517.1L1513.8 516.1L1514.0 515.1L1514.2 514.2L1514.4 513.2L1514.6 512.2L1514.9 511.3L1515.3 510.3L1515.8 509.9L1516.7 509.6L1517.5 509.6L1518.0 510.5L1518.3 511.4L1518.6 512.4L1518.8 513.4L1519.1 514.4L1519.3 515.3L1519.5 516.3L1519.7 517.3L1519.8 518.3L1520.0 519.3L1520.2 520.2L1520.4 521.2L1520.5 522.2L1520.7 523.2L1520.8 524.2L1521.0 525.2L1521.2 526.2L1521.3 527.2L1521.5 528.1L1521.6 529.1L1521.8 530.1L1521.9 531.1L1522.0 532.1L1522.2 533.1L1522.3 534.1L1522.4 535.1L1522.6 536.1L1522.7 537.1L1522.8 538.0L1523.0 539.0L1523.1 540.0L1523.3 541.0L1523.4 542.0L1523.5 543.0L1523.7 544.0L1523.8 545.0L1524.0 546.0L1524.1 547.0L1524.3 547.9L1524.4 548.9L1524.6 549.9L1524.7 550.9L1524.9 551.9L1525.1 552.9L1525.2 553.9L1525.4 554.9L1525.5 555.8L1525.7 556.8L1525.9 557.8L1526.0 558.8L1526.2 559.8L1526.4 560.8L1526.6 561.8L1526.7 562.7L1526.9 563.7L1527.1 564.7L1527.3 565.7L1527.5 566.7L1527.7 567.7L1527.9 568.6L1528.1 569.6L1528.3 570.6L1528.5 571.6L1528.7 572.6L1528.9 573.5L1529.1 574.5L1529.4 575.5L1529.6 576.4L1529.9 577.4L1530.2 578.4L1530.5 579.3L1530.8 580.3L1531.2 581.2L1531.5 582.1L1531.9 583.0L1532.3 584.0L1532.8 584.9L1533.2 585.8L1533.7 586.6L1534.1 587.5L1534.6 588.4L1535.1 589.3L1535.7 590.1L1536.2 590.9L1536.8 591.7L1537.4 592.5L1538.1 593.3L1538.7 594.1L1539.4 594.8L1540.1 595.5L1540.9 596.2L1541.7 597.1L1542.7 597.7L1543.7 597.4L1544.6 596.6L1545.4 595.9L1546.1 595.2L1546.9 594.6L1547.7 593.8L1548.4 593.1L1549.2 592.4L1549.9 591.9L1550.6 591.2L1551.3 590.5L1552.0 589.8L1552.6 589.0L1553.3 588.2L1553.9 587.4L1554.4 586.6L1555.0 585.8L1555.5 584.9L1556.0 584.0L1556.5 583.2L1557.0 582.3L1557.4 581.4L1557.8 580.5L1558.2 579.6L1558.6 578.6L1559.0 577.7L1559.4 576.8L1559.7 575.8L1560.0 574.9L1560.2 573.9L1560.4 572.9L1560.6 572.0L1560.8 571.0L1561.0 570.0L1561.1 569.0L1561.3 568.0L1561.4 567.0L1561.6 566.0L1561.7 565.0L1561.8 564.0L1561.9 563.0L1562.0 562.1L1562.1 561.1L1562.3 560.1L1562.4 559.1L1562.5 558.1L1562.6 557.1L1562.7 556.1L1562.8 555.1L1562.9 554.1L1563.0 553.1L1563.1 552.1L1563.2 551.1L1563.2 550.1L1563.3 549.1L1563.4 548.1L1563.5 547.1L1563.6 546.1L1563.6 545.1L1563.7 544.1L1563.8 543.1L1563.8 542.1L1563.9 541.1L1564.0 540.1L1564.1 539.1L1564.1 538.1L1564.2 537.1L1564.3 536.1L1564.3 535.2L1564.4 534.2L1564.5 533.2L1564.6 532.2L1564.6 531.2L1564.7 530.2L1564.8 529.2L1564.8 528.2L1564.9 527.2L1565.0 526.2L1565.1 525.2L1565.1 524.2L1565.2 523.2L1565.3 522.2L1565.4 521.2L1565.4 520.2L1565.5 519.2L1565.6 518.2L1565.6 517.2L1565.7 516.2L1565.8 515.2L1565.8 514.2L1565.9 513.2L1566.0 512.2L1566.0 511.2L1566.1 510.2L1566.2 509.2L1566.2 508.2L1566.3 507.2L1566.4 506.2L1566.4 505.2L1566.5 504.2L1566.5 503.2L1566.6 502.2L1566.7 501.2L1566.7 500.2L1566.8 499.2L1566.8 498.2L1566.9 497.2L1567.0 496.2L1567.0 495.2L1567.1 494.2L1567.2 493.2L1567.2 492.2L1567.3 491.3L1567.3 490.3L1567.4 489.3L1567.5 488.3L1567.5 487.3L1567.6 486.3L1567.6 485.3L1567.7 484.3L1567.7 483.3L1567.8 482.3L1567.9 481.3L1567.9 480.3L1568.0 479.3L1568.0 478.3L1568.1 477.3L1568.1 476.3L1568.2 475.3L1568.3 474.3L1568.3 473.3L1568.4 472.3L1568.4 471.3L1568.5 470.3L1568.5 469.3L1568.6 468.3L1568.7 467.3L1568.7 466.3L1568.8 465.3L1568.9 464.3L1568.9 463.3L1569.0 462.3L1569.1 461.3L1569.1 460.3L1569.2 459.3L1569.3 458.3L1569.4 457.3L1569.4 456.3L1569.5 455.3L1569.6 454.3L1569.7 453.3L1569.8 452.3L1569.8 451.3L1569.9 450.3L1570.0 449.3L1570.1 448.3L1570.2 447.3L1570.2 446.4L1570.3 445.4L1570.4 444.4L1570.5 443.4L1570.5 442.4L1570.6 441.4L1570.7 440.4L1570.7 439.4L1570.8 438.4L1570.9 437.4L1570.9 436.4L1571.0 435.4L1571.1 434.4L1571.1 433.4L1571.2 432.4L1571.3 431.4L1571.4 430.4L1571.4 429.4L1571.5 428.4L1571.6 427.4L1571.7 426.4L1571.8 425.4L1571.8 424.4L1571.9 423.4L1572.0 422.4L1572.1 421.4L1572.2 420.4L1572.2 419.4L1572.3 418.4L1572.4 417.4L1572.5 416.4L1572.6 415.4L1572.7 414.4L1572.8 413.4L1572.8 412.5L1572.9 411.5L1573.0 410.5L1573.1 409.5L1573.2 408.5L1573.3 407.5L1573.4 406.5L1573.5 405.5L1573.6 404.5L1573.7 403.5L1573.8 402.5L1573.9 401.5L1574.0 400.5L1574.1 399.5L1574.1 398.5L1574.2 397.5L1574.3 396.5L1574.4 395.5L1574.5 394.5L1574.6 393.5L1574.7 392.5L1574.8 391.5L1574.9 390.5L1575.0 389.6L1575.1 388.6L1575.2 387.6L1575.3 386.6L1575.4 385.6L1575.5 384.6L1575.5 383.6L1575.6 382.6L1575.7 381.6L1575.8 380.6L1575.9 379.6L1575.9 378.6L1576.0 377.6L1576.1 376.6L1576.2 375.6L1576.2 374.6L1576.3 373.6L1576.4 372.6L1576.5 371.6L1576.5 370.6L1576.6 369.6L1576.7 368.6L1576.7 367.6L1576.8 366.6L1576.9 365.6L1576.9 364.6L1577.0 363.6L1577.1 362.6L1577.1 361.6L1577.2 360.6L1577.3 359.6L1577.3 358.6L1577.4 357.6L1577.5 356.6L1577.6 355.7L1577.6 354.7L1577.7 353.7L1577.8 352.7L1577.8 351.7L1577.9 350.7L1578.0 349.7L1578.1 348.7L1578.2 347.7L1578.2 346.7L1578.3 345.7L1578.4 344.7L1578.5 343.7L1578.6 342.7L1578.7 341.7L1578.8 340.7L1578.9 339.7L1578.9 338.7L1579.0 337.7L1579.1 336.7L1579.2 335.7L1579.3 334.7L1579.4 333.7L1579.5 332.7L1579.6 331.7L1579.7 330.7L1579.8 329.7L1579.8 328.7L1579.9 327.8L1580.0 326.8L1580.1 325.8L1580.2 324.8L1580.3 323.8L1580.3 322.8L1580.4 321.8L1580.5 320.8L1580.6 319.8L1580.6 318.8L1580.7 317.8L1580.8 316.8L1580.8 315.8L1580.9 314.8L1581.0 313.8L1581.0 312.8L1581.1 311.8L1581.2 310.8L1581.2 309.8L1581.3 308.8L1581.3 307.8L1581.4 306.8L1581.5 305.8L1581.5 304.8L1581.6 303.8L1581.6 302.8L1581.7 301.8L1581.7 300.8L1581.8 299.8L1581.9 298.8L1581.9 297.8L1582.0 296.8L1582.0 295.8L1582.1 294.8L1582.2 293.8L1582.2 292.8L1582.3 291.8L1582.3 290.8L1582.4 289.8L1582.5 288.8L1582.5 287.8L1582.6 286.8L1582.7 285.8L1582.7 284.8L1582.8 283.8L1582.9 282.8L1582.9 281.9L1583.0 280.9L1583.1 279.9L1583.1 278.9L1583.2 277.9L1583.3 276.9L1583.3 275.9L1583.4 274.9L1583.5 273.9L1583.5 272.9L1583.6 271.9L1583.7 270.9L1583.7 269.9L1583.8 268.9L1583.9 267.9L1583.9 266.9L1584.0 265.9L1584.1 264.9L1584.1 263.9L1584.2 262.9L1584.3 261.9L1584.3 260.9L1584.4 259.9L1584.5 258.9L1584.5 257.9L1584.6 256.9L1584.7 255.9L1584.7 254.9L1584.8 253.9L1584.9 252.9L1584.9 251.9L1585.0 250.9L1585.1 249.9L1585.1 248.9L1585.2 247.9L1585.3 246.9L1585.4 245.9L1585.4 244.9L1585.5 243.9L1585.6 242.9L1585.6 241.9L1585.7 240.9L1585.8 239.9L1585.8 238.9L1585.9 238.0L1586.0 237.0L1586.0 236.0L1586.1 235.0L1586.2 234.0L1586.2 233.0L1586.3 232.0L1586.3 231.0L1586.4 230.0L1586.5 229.0L1586.5 228.0L1586.6 227.0L1586.7 226.0L1586.7 225.0L1586.8 224.0L1586.8 223.0L1586.9 222.0L1587.0 221.0L1587.0 220.0L1587.1 219.0L1587.1 218.0L1587.2 217.0L1587.2 216.0L1587.3 215.0L1587.3 214.0L1587.4 213.0L1587.4 212.0L1587.5 211.0L1587.6 210.0L1587.6 209.0L1587.7 208.0L1587.7 207.0L1587.8 206.0L1587.9 205.0L1587.9 204.0L1588.0 203.0L1588.0 202.0L1588.1 201.0L1588.2 200.0L1588.3 199.0L1588.3 198.0L1588.4 197.0L1588.5 196.0L1588.6 195.0L1588.6 194.0L1588.7 193.0L1588.8 192.0L1588.9 191.0L1589.0 190.1L1589.1 189.1L1589.1 188.1L1589.2 187.1L1589.3 186.1L1589.4 185.1L1589.5 184.1L1589.6 183.1L1589.7 182.1L1589.7 181.1L1589.8 180.1L1589.9 179.1L1590.0 178.1L1590.1 177.1L1590.2 176.1L1590.3 175.1L1590.4 174.1L1590.5 173.1L1590.6 172.1L1590.6 171.1L1590.7 170.1L1590.8 169.1L1590.9 168.1L1591.0 167.1L1591.1 166.1L1591.2 165.1L1591.3 164.2L1591.4 163.2L1591.5 162.2L1591.6 161.2L1591.7 160.2L1591.8 159.2L1591.9 158.2L1592.0 157.2L1592.1 156.2L1592.2 155.2L1592.4 154.2L1592.5 153.2L1592.7 152.2L1592.8 151.3L1593.1 150.3L1593.3 149.3L1593.7 148.4L1594.3 147.5L1595.1 146.8L1596.1 147.0L1597.0 147.1L1598.0 147.8L1598.9 148.5L1599.9 148.4L1600.9 148.4L1601.9 148.7L1602.7 149.0L1603.3 149.6L1603.8 150.5L1604.2 151.4L1604.6 152.4L1604.9 153.3L1605.1 154.3L1605.4 155.2L1605.6 156.2L1605.8 157.2L1606.1 158.2L1606.3 159.1L1606.5 160.1L1606.6 161.1L1606.8 162.1L1607.0 163.1L1607.1 164.1L1607.3 165.1L1607.5 166.0L1607.6 167.0L1607.8 168.0L1607.9 169.0L1608.1 170.0L1608.2 171.0L1608.4 172.0L1608.6 172.9L1608.8 173.9L1609.0 174.9L1609.2 175.9L1609.4 176.9L1609.6 177.8L1609.8 178.8L1610.0 179.8L1610.2 180.8L1610.4 181.8L1610.6 182.7L1610.8 183.7L1611.0 184.7L1611.1 185.7L1611.3 186.7L1611.4 187.7L1611.6 188.7L1611.7 189.6L1611.9 190.6L1612.0 191.6L1612.1 192.6L1612.3 193.6L1612.4 194.6L1612.5 195.6L1612.7 196.6L1612.8 197.6L1612.9 198.6L1613.0 199.6L1613.1 200.6L1613.3 201.5L1613.4 202.5L1613.5 203.5L1613.6 204.5L1613.8 205.5L1613.9 206.5L1614.0 207.5L1614.1 208.5L1614.2 209.5L1614.4 210.5L1614.5 211.5L1614.6 212.5L1614.7 213.5L1614.8 214.5L1614.9 215.4L1615.1 216.4L1615.2 217.4L1615.3 218.4L1615.4 219.4L1615.5 220.4L1615.6 221.4L1615.7 222.4L1615.8 223.4L1616.0 224.4L1616.1 225.4L1616.2 226.4L1616.3 227.4L1616.4 228.4L1616.6 229.4L1616.7 230.3L1616.8 231.3L1616.9 232.3L1617.1 233.3L1617.2 234.3L1617.3 235.3L1617.4 236.3L1617.6 237.3L1617.7 238.3L1617.8 239.3L1618.0 240.3L1618.1 241.3L1618.2 242.2L1618.4 243.2L1618.5 244.2L1618.7 245.2L1618.9 246.2L1619.1 247.2L1619.3 248.2L1619.5 249.1L1619.8 250.1L1620.0 251.1L1620.4 252.0L1620.7 252.9L1621.1 253.9L1621.4 254.8L1621.8 255.7L1622.2 256.6L1622.6 257.6L1623.0 258.5L1623.3 259.4L1623.6 260.4L1623.9 261.3L1624.2 262.3L1624.5 263.3L1624.7 264.2L1625.0 265.2L1625.2 266.2L1625.4 267.1L1625.6 268.1L1625.8 269.1L1626.0 270.1L1626.1 271.1L1626.3 272.1L1626.4 273.1L1626.5 274.1L1626.7 275.0L1626.8 276.0L1626.9 277.0L1627.0 278.0L1627.1 279.0L1627.2 280.0L1627.3 281.0L1627.4 282.0L1627.5 283.0L1627.6 284.0L1627.7 285.0L1627.8 286.0L1627.9 287.0L1628.0 288.0L1628.1 289.0L1628.2 290.0L1628.2 291.0L1628.3 292.0L1628.4 293.0L1628.5 294.0L1628.6 295.0L1628.7 295.9L1628.7 296.9L1628.8 297.9L1628.9 298.9L1628.9 299.9L1629.0 300.9L1629.1 301.9L1629.2 302.9L1629.2 303.9L1629.3 304.9L1629.3 305.9L1629.4 306.9L1629.5 307.9L1629.5 308.9L1629.6 309.9L1629.7 310.9L1629.7 311.9L1629.8 312.9L1629.8 313.9L1629.9 314.9L1630.0 315.9L1630.0 316.9L1630.1 317.9L1630.2 318.9L1630.2 319.9L1630.3 320.9L1630.4 321.9L1630.4 322.9L1630.5 323.9L1630.6 324.9L1630.6 325.9L1630.7 326.9L1630.8 327.9L1630.8 328.9L1630.9 329.9L1631.0 330.9L1631.0 331.9L1631.1 332.9L1631.2 333.9L1631.2 334.9L1631.3 335.9L1631.4 336.9L1631.4 337.9L1631.5 338.9L1631.6 339.9L1631.6 340.8L1631.7 341.8L1631.8 342.8L1631.8 343.8L1631.9 344.8L1632.0 345.8L1632.0 346.8L1632.1 347.8L1632.2 348.8L1632.2 349.8L1632.3 350.8L1632.4 351.8L1632.4 352.8L1632.5 353.8L1632.5 354.8L1632.6 355.8L1632.7 356.8L1632.7 357.8L1632.8 358.8L1632.9 359.8L1633.0 360.8L1633.0 361.8L1633.1 362.8L1633.2 363.8L1633.2 364.8L1633.3 365.8L1633.4 366.8L1633.5 367.8L1633.6 368.8L1633.7 369.8L1633.8 370.8L1633.9 371.8L1633.9 372.8L1634.0 373.8L1634.1 374.8L1634.2 375.7L1634.3 376.7L1634.4 377.7L1634.5 378.7L1634.7 379.7L1634.8 380.7L1634.9 381.7L1635.0 382.7L1635.1 383.7L1635.2 384.7L1635.3 385.7L1635.4 386.7L1635.5 387.7L1635.6 388.7L1635.7 389.7L1635.8 390.7L1635.9 391.7L1636.0 392.7L1636.1 393.7L1636.2 394.7L1636.3 395.6L1636.4 396.6L1636.5 397.6L1636.6 398.6L1636.7 399.6L1636.8 400.6L1636.9 401.6L1637.0 402.6L1637.1 403.6L1637.2 404.6L1637.3 405.6L1637.4 406.6L1637.5 407.6L1637.6 408.6L1637.7 409.6L1637.8 410.6L1637.9 411.6L1638.0 412.6L1638.1 413.6L1638.2 414.5L1638.3 415.5L1638.4 416.5L1638.5 417.5L1638.6 418.5L1638.8 419.5L1638.9 420.5L1639.0 421.5L1639.1 422.5L1639.2 423.5L1639.3 424.5L1639.4 425.5L1639.6 426.5L1639.7 427.5L1639.8 428.5L1639.9 429.5L1639.8 430.0L1639.9 430.9L1640.0 431.9L1640.0 432.9L1640.2 433.9L1640.3 434.9L1640.5 435.9L1640.8 436.8L1641.2 437.8L1641.6 438.7L1642.3 439.3L1643.1 439.4L1643.8 438.8L1644.3 437.9L1644.8 437.1L1645.4 436.0L1646.3 435.2L1647.2 436.2L1647.8 437.0L1648.2 437.9L1648.6 438.8L1649.0 439.8L1649.3 440.7L1649.6 441.7L1649.8 442.6L1650.0 443.6L1650.2 444.6L1650.4 445.6L1650.5 446.6L1650.7 447.6L1650.8 448.6L1651.0 449.5L1651.1 450.5L1651.2 451.5L1651.3 452.5L1651.5 453.5L1651.6 454.5L1651.7 455.5L1651.8 456.5L1651.9 457.5L1652.0 458.5L1652.1 459.5L1652.2 460.5L1652.4 461.5L1652.5 462.5L1652.6 463.5L1652.6 464.5L1652.7 465.4L1652.8 466.4L1652.9 467.4L1653.0 468.4L1653.1 469.4L1653.1 470.4L1653.2 471.4L1653.3 472.4L1653.4 473.4L1653.4 474.4L1653.5 475.4L1653.6 476.4L1653.6 477.4L1653.7 478.4L1653.8 479.4L1653.8 480.4L1653.9 481.4L1654.0 482.4L1654.1 483.4L1654.1 484.4L1654.2 485.4L1654.3 486.4L1654.4 487.4L1654.4 488.4L1654.5 489.4L1654.6 490.4L1654.7 491.4L1654.7 492.4L1654.8 493.4L1654.9 494.4L1655.0 495.4L1655.0 496.4L1655.1 497.4L1655.2 498.4L1655.3 499.4L1655.4 500.3L1655.4 501.3L1655.5 502.3L1655.6 503.3L1655.7 504.3L1655.8 505.3L1655.9 506.3L1656.0 507.3L1656.2 508.3L1656.3 509.3L1656.4 510.3L1656.5 511.3L1656.6 512.3L1656.7 513.3L1656.8 514.3L1656.9 515.3L1657.1 516.3L1657.2 517.3L1657.3 518.2L1657.4 519.2L1657.5 520.2L1657.6 521.2L1657.7 522.2L1657.8 523.2L1657.9 524.2L1658.0 525.2L1658.1 526.2L1658.2 527.2L1658.3 528.2L1658.4 529.2L1658.5 530.2L1658.6 531.2L1658.7 532.2L1658.8 533.2L1658.9 534.2L1659.0 535.2L1659.1 536.2L1659.2 537.2L1659.3 538.1L1659.4 539.1L1659.5 540.1L1659.6 541.1L1659.7 542.1L1659.8 543.1L1660.0 544.1L1660.1 545.1L1660.2 546.1L1660.3 547.1L1660.5 548.1L1660.6 549.1L1660.8 550.0L1661.1 551.0L1661.6 551.1L1662.4 551.3L1662.9 550.4L1663.1 549.4L1663.3 548.5L1663.5 547.5L1663.6 546.5L1663.7 545.5L1663.9 544.5L1664.0 543.5L1664.1 542.5L1664.2 541.5L1664.3 540.5L1664.4 539.5L1664.5 538.5L1664.6 537.5L1664.7 536.5L1664.8 535.5L1664.9 534.5L1665.0 533.6L1665.1 532.6L1665.2 531.6L1665.3 530.6L1665.4 529.6L1665.5 528.6L1665.5 527.6L1665.6 526.6L1665.7 525.6L1665.8 524.6L1665.9 523.6L1665.9 522.6L1666.0 521.6L1666.1 520.6L1666.2 519.6L1666.3 518.6L1666.3 517.6L1666.4 516.6L1666.5 515.6L1666.6 514.6L1666.7 513.6L1666.8 512.6L1666.9 511.6L1666.9 510.6L1667.0 509.6L1667.1 508.6L1667.2 507.6L1667.3 506.6L1667.3 505.6L1667.4 504.7L1667.5 503.7L1667.6 502.7L1667.7 501.7L1667.8 500.7L1667.9 499.7L1668.0 498.7L1668.1 497.7L1668.2 496.7L1668.3 495.7L1668.4 494.7L1668.5 493.7L1668.7 492.7L1668.9 491.7L1669.0 490.8L1669.3 489.8L1669.5 488.8L1669.8 487.9L1670.3 487.0L1671.1 486.4L1671.7 487.3L1672.2 488.2L1672.7 489.1L1673.1 490.0L1673.5 490.9L1673.9 491.8L1674.3 492.7L1674.7 493.7L1675.1 494.6L1675.5 495.5L1676.0 496.3L1676.6 497.1L1677.3 497.8L1678.0 498.6L1678.6 499.4L1679.1 500.3L1679.5 501.2L1679.8 502.1L1680.1 503.1L1680.4 504.0L1680.7 505.0L1680.9 506.0L1681.2 506.9L1681.4 507.9L1681.6 508.9L1681.9 509.9L1682.1 510.8L1682.3 511.8L1682.5 512.8L1682.7 513.8L1682.9 514.7L1683.1 515.7L1683.3 516.7L1683.5 517.7L1683.7 518.7L1683.8 519.7L1684.0 520.6L1684.2 521.6L1684.4 522.6L1684.5 523.6L1684.7 524.6L1684.9 525.6L1685.0 526.6L1685.2 527.5L1685.3 528.5L1685.5 529.5L1685.6 530.5L1685.8 531.5L1685.9 532.5L1686.1 533.5L1686.2 534.5L1686.3 535.5L1686.5 536.4L1686.6 537.4L1686.7 538.4L1686.9 539.4L1687.0 540.4L1687.1 541.4L1687.3 542.4L1687.4 543.4L1687.5 544.4L1687.6 545.4L1687.8 546.4L1687.9 547.4L1688.0 548.3L1688.1 549.3L1688.3 550.3L1688.4 551.3L1688.5 552.3L1688.6 553.3L1688.8 554.3L1688.9 555.3L1689.0 556.3L1689.1 557.3L1689.3 558.3L1689.4 559.3L1689.5 560.3L1689.6 561.2L1689.7 562.2L1689.9 563.2L1690.0 564.2L1690.1 565.2L1690.2 566.2L1690.3 567.2L1690.5 568.2L1690.6 569.2L1690.7 570.2L1690.8 571.2L1690.9 572.2L1691.1 573.2L1691.2 574.2L1691.3 575.1L1691.4 576.1L1691.6 577.1L1691.7 578.1L1691.8 579.1L1692.0 580.1L1692.1 581.1L1692.3 582.1L1692.4 583.1L1692.6 584.1L1692.7 585.0L1692.9 586.0L1693.1 587.0L1693.3 588.0L1693.5 589.0L1693.7 590.0L1693.9 590.9L1694.1 591.9L1694.3 592.9L1694.6 593.8L1694.8 594.8L1695.1 595.8L1695.3 596.8L1695.6 597.7L1696.0 598.6L1696.6 599.2L1697.5 599.1L1698.1 598.4L1698.6 597.5L1699.1 596.7L1699.6 595.8L1700.1 595.0L1700.8 594.4L1701.6 594.3L1702.6 594.2L1703.6 594.0L1704.6 593.8L1705.6 593.9L1706.4 594.2L1707.2 594.8L1708.2 595.3L1709.0 594.6L1709.8 593.7L1710.5 592.9L1711.2 592.2L1711.8 591.4L1712.5 590.6L1713.1 589.9L1713.8 589.1L1714.4 588.3L1715.1 587.6L1715.7 586.8L1716.4 586.1L1717.0 585.3L1717.6 584.5L1718.2 583.7L1718.9 582.9L1719.5 582.1L1720.1 581.3L1720.7 580.5L1721.2 579.7L1721.8 578.9L1722.3 578.0L1722.8 577.2L1723.4 576.3L1723.9 575.5L1724.5 574.7L1725.1 574.1L1725.9 573.5L1726.7 572.9L1727.6 572.5L1728.3 571.6L1728.9 570.7L1729.2 569.8L1729.5 568.8L1729.8 567.9L1730.1 566.9L1730.3 566.0L1730.6 565.0L1731.1 564.5L1731.9 564.5L1732.2 565.1L1732.4 566.1L1732.6 567.0L1732.7 568.0L1732.8 569.0L1732.9 570.0L1733.0 571.0L1733.1 572.0L1733.2 573.0L1733.3 574.0L1733.4 575.0L1733.5 576.0L1733.6 577.0L1733.7 578.0L1733.8 579.0L1734.0 580.0L1734.1 581.0L1734.2 581.9L1734.4 582.9L1734.5 583.9L1734.7 584.9L1734.8 585.9L1735.0 586.9L1735.1 587.9L1735.3 588.9L1735.5 589.8L1735.7 590.8L1735.9 591.8L1736.1 592.8L1736.4 593.8L1736.6 594.7L1736.9 595.7L1737.2 596.6L1737.5 597.6L1737.8 598.5L1738.2 599.5L1738.5 600.4L1738.8 601.4L1739.1 602.3L1739.4 603.3L1739.7 604.2L1740.0 605.2L1740.2 606.2L1740.5 607.1L1740.7 608.1L1740.9 609.1L1741.1 610.1L1741.3 611.0L1741.5 612.0L1741.8 613.0L1742.0 614.0L1742.3 614.9L1742.6 615.9L1742.9 616.8L1743.4 617.7L1743.9 618.6L1744.5 619.4L1745.1 620.1L1745.8 620.9L1746.7 621.6L1747.7 621.8L1748.7 621.3L1749.7 620.5L1750.6 620.3L1751.5 620.1L1752.2 619.8L1752.9 619.3L1753.6 618.6L1754.2 617.9L1754.9 617.1L1755.4 616.3L1756.0 615.4L1756.6 614.5L1757.4 613.7L1758.3 613.6L1759.2 614.4L1759.9 615.1L1760.7 615.7L1761.4 616.5L1762.1 617.3L1762.8 618.0L1763.5 618.7L1764.2 619.4L1764.9 620.2L1765.6 620.9L1766.3 621.6L1767.2 621.9L1768.2 621.8L1769.1 621.4L1769.9 621.1L1770.8 620.6L1771.5 620.0L1772.3 619.4L1773.0 618.6L1773.6 617.8L1774.3 617.0L1775.0 616.1L1775.8 615.4L1776.7 615.2L1777.7 615.4L1778.7 615.7L1779.7 615.4L1780.6 614.8L1781.2 614.0L1781.6 613.1L1782.0 612.1L1782.3 611.2L1782.6 610.2L1782.9 609.3L1783.2 608.3L1783.6 607.4L1783.9 606.5L1784.3 605.5L1784.6 604.6L1784.9 603.6L1785.2 602.7L1785.5 601.7L1785.7 600.7L1785.9 599.7L1786.0 598.8L1786.2 597.8L1786.4 596.8L1786.7 595.8L1787.2 595.0L1787.9 593.7L1788.9 594.2L1789.6 595.2L1790.1 596.1L1790.6 596.9L1791.0 597.9L1791.3 598.8L1791.5 599.8L1791.8 600.8L1791.9 601.7L1792.1 602.7L1792.2 603.7L1792.4 604.7L1792.9 605.6L1793.8 606.2L1794.8 606.4L1795.7 606.6L1796.2 607.4L1796.5 608.4L1796.8 609.3L1797.1 610.3L1797.8 610.3L1798.7 610.2L1799.7 610.9L1800.7 611.6L1801.7 612.1L1802.6 612.3L1803.3 612.7L1804.0 613.3L1804.7 614.1L1805.3 614.7L1806.0 615.5L1806.6 616.3L1807.2 617.1L1807.9 618.2L1808.8 618.7L1809.7 617.8L1810.3 617.0L1810.9 616.2L1811.4 615.3L1812.0 614.5L1812.6 613.9L1813.5 613.5L1814.1 614.2L1814.5 615.1L1814.8 616.0L1815.3 616.5L1816.1 616.5L1816.6 616.0L1817.0 615.1L1817.5 614.2L1818.1 613.2L1819.1 613.2L1820.0 614.1L1820.8 614.6L1821.5 615.1L1822.2 615.8L1822.8 616.6L1823.3 617.5L1823.8 618.4L1824.2 619.3L1824.7 620.1L1825.4 621.2L1826.4 621.2L1827.2 620.4L1827.9 619.6L1828.6 618.8L1829.3 618.0L1830.2 617.5L1831.1 617.1L1832.1 616.7L1832.9 616.4L1833.5 615.8L1833.9 614.8L1834.2 613.9L1834.4 612.9L1834.7 611.9L1835.0 611.0L1835.5 610.0L1836.3 610.6L1836.7 611.5L1837.0 612.5L1837.2 613.4L1837.4 614.4L1837.5 615.4L1837.5 616.4L1837.6 617.4L1837.7 618.4L1837.8 619.4L1837.9 620.4L1838.0 621.4L1838.3 622.4L1838.5 623.3L1838.8 624.3L1839.2 625.2L1839.7 625.8L1840.4 625.8L1840.7 624.8L1840.9 623.9L1841.0 622.9L1841.2 621.9L1841.3 620.9L1841.4 619.9L1841.6 618.9L1841.7 617.9L1841.8 616.9L1841.9 615.9L1842.0 614.9L1842.1 613.9L1842.2 612.9L1842.4 611.9L1842.6 611.0L1843.3 611.2L1843.7 612.1L1844.0 613.0L1844.3 614.0L1844.5 615.0L1844.7 615.9L1844.9 616.9L1845.0 617.9L1845.2 618.9L1845.3 619.9L1845.5 620.9L1845.6 621.9L1845.8 622.9L1846.0 623.9L1846.1 624.8L1846.4 625.8L1846.9 625.7L1847.3 625.5L1847.5 624.5L1847.7 623.5L1847.9 622.5L1848.1 621.6L1848.2 620.6L1848.3 619.6L1848.4 618.6L1848.5 617.6L1848.6 617.1"/>
<path id="c-e" d="M108.6 1148.2L109.6 1148.6L110.6 1148.4L111.6 1148.7L112.6 1149.2L113.6 1148.9L114.6 1148.9L115.6 1149.1L116.6 1149.0L117.6 1148.8L118.6 1148.7L119.6 1149.0L120.6 1149.5L121.6 1149.2L122.6 1148.4L123.6 1148.2L124.6 1149.1L125.6 1149.8L126.6 1149.3L127.6 1148.8L128.6 1148.9L129.6 1149.0L130.6 1148.7L131.6 1148.4L132.6 1148.2L133.6 1148.3L134.6 1148.7L135.6 1149.1L136.6 1149.1L137.6 1148.6L138.6 1148.1L139.6 1148.2L140.6 1148.9L141.6 1149.2L142.6 1148.6L143.6 1148.1L144.6 1148.3L145.6 1148.5L146.6 1148.4L147.6 1148.4L148.6 1148.6L149.6 1148.7L150.6 1148.6L151.6 1148.5L152.6 1148.4L153.6 1148.3L154.6 1148.4L155.6 1148.4L156.6 1148.2L157.6 1148.1L158.6 1148.1L159.6 1148.1L160.6 1148.3L161.6 1148.3L162.6 1147.7L163.6 1147.6L164.6 1147.7L165.6 1147.6L166.6 1147.7L167.6 1147.8L168.6 1147.4L169.6 1146.9L170.6 1146.8L171.6 1147.5L172.6 1148.3L173.6 1147.9L174.6 1147.2L175.6 1147.6L176.6 1148.1L177.6 1148.2L178.6 1148.0L179.6 1147.9L180.6 1147.8L181.6 1147.4L182.6 1147.3L183.6 1147.4L184.6 1147.6L185.6 1147.8L186.6 1148.0L187.6 1148.0L188.6 1148.0L189.6 1148.1L190.6 1148.0L191.6 1147.5L192.6 1147.5L193.6 1148.1L194.6 1148.4L195.6 1148.8L196.6 1149.0L197.6 1148.6L198.6 1148.4L199.6 1148.6L200.6 1148.7L201.6 1149.1L202.6 1149.4L203.6 1149.1L204.6 1148.5L205.6 1148.2L206.6 1148.4L207.6 1148.7L208.6 1148.9L209.6 1149.3L210.6 1149.7L211.6 1149.1L212.6 1148.6L213.6 1149.0L214.6 1149.1L215.6 1148.8L216.6 1148.6L217.6 1148.8L218.6 1149.0L219.6 1148.7L220.6 1148.5L221.6 1148.6L222.6 1148.8L223.6 1148.6L224.6 1148.0L225.6 1148.0L226.6 1148.5L227.6 1148.7L228.6 1148.6L229.6 1148.5L230.6 1148.7L231.6 1148.9L232.6 1148.8L233.6 1148.6L234.5 1148.3L235.5 1147.7L236.3 1146.9L236.9 1146.0L237.8 1145.6L238.8 1145.9L239.8 1145.9L240.8 1145.8L241.8 1145.8L242.8 1145.8L243.7 1146.1L244.7 1146.5L245.7 1146.6L246.7 1146.6L247.7 1147.3L248.7 1147.8L249.7 1147.6L250.7 1147.4L251.7 1147.8L252.7 1147.9L253.7 1147.3L254.7 1147.0L255.7 1146.8L256.7 1147.0L257.7 1148.0L258.7 1148.4L259.7 1147.8L260.7 1147.6L261.7 1147.8L262.7 1147.9L263.6 1148.0L264.6 1147.9L265.6 1147.4L266.6 1146.9L267.5 1146.9L268.5 1146.9L269.5 1146.3L270.4 1145.4L271.4 1145.0L272.3 1144.8L273.2 1144.4L274.1 1144.3L275.1 1144.3L276.0 1143.8L276.9 1143.2L277.8 1142.6L278.7 1142.1L279.5 1141.7L280.4 1141.2L281.2 1140.5L282.1 1139.8L282.9 1139.4L283.7 1139.1L284.5 1138.7L285.3 1138.1L286.1 1137.4L286.9 1136.7L287.7 1136.3L288.5 1135.7L289.2 1135.0L290.0 1134.3L290.7 1133.6L291.5 1132.9L292.2 1132.1L293.0 1131.4L293.7 1130.7L294.4 1130.0L295.1 1129.3L295.8 1128.5L296.5 1127.8L297.2 1127.1L297.8 1126.4L298.5 1125.7L299.2 1124.9L299.8 1124.2L300.5 1123.4L301.1 1122.6L301.8 1121.9L302.4 1121.1L303.1 1120.3L303.7 1119.6L304.4 1118.8L305.0 1118.1L305.7 1117.3L306.3 1116.6L307.0 1115.8L307.6 1115.0L308.3 1114.3L308.9 1113.5L309.5 1112.7L310.2 1111.9L310.8 1111.2L311.4 1110.4L312.0 1109.6L312.6 1108.8L313.2 1108.0L313.8 1107.2L314.4 1106.4L315.0 1105.6L315.5 1104.7L316.1 1103.9L316.7 1103.1L317.2 1102.3L317.8 1101.4L318.3 1100.6L318.9 1099.8L319.4 1098.9L320.0 1098.1L320.5 1097.2L321.0 1096.4L321.5 1095.5L322.1 1094.7L322.6 1093.8L323.1 1093.0L323.6 1092.1L324.1 1091.3L324.7 1090.4L325.2 1089.5L325.7 1088.7L326.2 1087.8L326.7 1087.0L327.2 1086.1L327.7 1085.3L328.2 1084.4L328.8 1083.5L329.3 1082.7L329.8 1081.8L330.3 1080.9L330.8 1080.1L331.3 1079.2L331.8 1078.3L332.2 1077.5L332.7 1076.6L333.2 1075.7L333.7 1074.9L334.2 1074.0L334.7 1073.1L335.2 1072.2L335.7 1071.4L336.2 1070.5L336.7 1069.6L337.1 1068.7L337.6 1067.9L338.1 1067.0L338.6 1066.1L339.1 1065.3L339.6 1064.4L340.1 1063.5L340.5 1062.6L341.0 1061.7L341.5 1060.9L342.0 1060.0L342.5 1059.1L342.9 1058.2L343.4 1057.4L343.9 1056.5L344.4 1055.6L344.8 1054.7L345.3 1053.8L345.8 1053.0L346.3 1052.1L346.8 1051.2L347.2 1050.3L347.7 1049.4L348.2 1048.6L348.7 1047.7L349.1 1046.8L349.6 1045.9L350.1 1045.1L350.6 1044.2L351.0 1043.3L351.5 1042.4L352.0 1041.5L352.5 1040.7L352.9 1039.8L353.4 1038.9L353.9 1038.0L354.4 1037.1L354.8 1036.2L355.3 1035.4L355.8 1034.5L356.3 1033.6L356.7 1032.7L357.2 1031.9L357.7 1031.0L358.2 1030.1L358.7 1029.2L359.1 1028.3L359.6 1027.5L360.1 1026.6L360.6 1025.7L361.1 1024.9L361.6 1024.0L362.1 1023.1L362.6 1022.3L363.1 1021.4L363.6 1020.5L364.1 1019.7L364.6 1018.8L365.2 1018.0L365.7 1017.1L366.2 1016.2L366.7 1015.4L367.2 1014.5L367.7 1013.7L368.3 1012.8L368.8 1012.0L369.3 1011.1L369.8 1010.3L370.4 1009.4L370.9 1008.6L371.4 1007.7L371.9 1006.9L372.4 1006.0L372.9 1005.1L373.5 1004.3L374.0 1003.4L374.5 1002.6L375.0 1001.7L375.5 1000.8L376.0 1000.0L376.5 999.1L377.0 998.3L377.5 997.4L378.0 996.5L378.5 995.7L379.1 994.8L379.6 994.0L380.1 993.1L380.6 992.2L381.1 991.4L381.6 990.5L382.1 989.7L382.7 988.8L383.2 988.0L383.7 987.1L384.3 986.3L384.8 985.4L385.3 984.6L385.9 983.7L386.4 982.9L387.0 982.1L387.5 981.2L388.0 980.4L388.6 979.6L389.1 978.7L389.7 977.9L390.3 977.1L390.8 976.2L391.4 975.4L391.9 974.6L392.5 973.7L393.1 972.9L393.6 972.1L394.2 971.3L394.8 970.4L395.3 969.6L395.9 968.8L396.5 968.0L397.1 967.2L397.7 966.4L398.2 965.6L398.8 964.7L399.4 963.9L400.0 963.1L400.6 962.3L401.2 961.5L401.8 960.7L402.4 959.9L403.0 959.1L403.6 958.3L404.2 957.5L404.8 956.7L405.4 956.0L406.1 955.2L406.7 954.4L407.3 953.6L408.0 952.9L408.6 952.1L409.3 951.3L409.9 950.5L410.6 949.8L411.2 949.0L411.9 948.3L412.5 947.5L413.2 946.8L413.9 946.2L414.6 945.5L415.3 944.7L416.0 943.9L416.7 943.1L417.4 942.4L418.1 941.7L418.9 941.1L419.6 940.3L420.4 939.6L421.1 939.0L421.9 938.5L422.7 938.0L423.5 937.5L424.3 936.9L425.1 936.3L425.9 935.5L426.7 934.9L427.6 934.3L428.4 933.7L429.3 933.2L430.2 932.8L431.1 932.2L432.1 931.7L433.1 931.8L434.1 932.1L435.0 931.9L436.0 931.5L437.0 931.7L438.0 931.9L439.0 931.8L440.0 931.6L441.0 931.4L442.0 931.1L443.0 930.7L444.0 930.6L445.0 930.9L446.0 931.4L447.0 931.4L448.0 931.3L449.0 931.6L450.0 931.2L451.0 930.3L452.0 930.9L453.0 931.7L454.0 931.7L455.0 932.0L456.0 932.1L456.9 931.9L457.9 932.2L458.9 932.7L459.8 932.7L460.8 932.3L461.8 932.4L462.7 932.9L463.7 933.4L464.7 934.0L465.6 934.4L466.6 934.7L467.6 935.0L468.5 935.2L469.5 935.5L470.4 935.8L471.4 935.9L472.3 936.1L473.2 936.8L474.1 937.3L475.0 937.5L475.9 937.8L476.8 938.6L477.7 939.6L478.6 940.2L479.4 940.4L480.3 940.5L481.1 940.9L482.0 941.3L482.8 941.7L483.6 942.3L484.4 943.0L485.3 943.9L486.1 944.8L486.9 945.5L487.6 946.1L488.4 946.7L489.2 947.3L489.9 947.7L490.7 948.2L491.4 948.8L492.2 949.4L492.9 950.2L493.7 951.0L494.4 951.8L495.1 952.4L495.8 953.0L496.6 953.6L497.3 954.3L498.0 955.0L498.8 955.7L499.5 956.3L500.2 957.0L501.0 957.8L501.7 958.5L502.4 959.2L503.1 959.8L503.8 960.5L504.6 961.2L505.3 962.0L506.0 962.7L506.6 963.5L507.3 964.2L508.0 965.0L508.7 965.7L509.3 966.5L510.0 967.2L510.6 968.0L511.2 968.8L511.8 969.6L512.4 970.4L513.0 971.2L513.6 972.0L514.2 972.8L514.8 973.6L515.4 974.4L516.0 975.2L516.6 976.0L517.2 976.8L517.8 977.6L518.4 978.4L518.9 979.2L519.5 980.0L520.1 980.9L520.7 981.7L521.3 982.5L521.9 983.3L522.4 984.1L523.0 984.9L523.6 985.7L524.2 986.5L524.8 987.4L525.3 988.2L525.9 989.0L526.5 989.8L527.1 990.6L527.6 991.5L528.2 992.3L528.8 993.1L529.4 993.9L529.9 994.7L530.5 995.6L531.1 996.4L531.6 997.2L532.2 998.0L532.8 998.8L533.4 999.6L533.9 1000.5L534.5 1001.3L535.1 1002.1L535.6 1002.9L536.2 1003.8L536.8 1004.6L537.3 1005.4L537.9 1006.2L538.5 1007.1L539.0 1007.9L539.6 1008.7L540.2 1009.5L540.8 1010.3L541.4 1011.1L542.0 1011.9L542.5 1012.8L543.2 1013.5L543.8 1014.3L544.4 1015.1L545.0 1015.9L545.6 1016.7L546.3 1017.5L546.9 1018.2L547.6 1019.0L548.2 1019.7L548.9 1020.5L549.5 1021.3L550.2 1022.0L550.9 1022.8L551.5 1023.5L552.2 1024.2L552.9 1025.0L553.5 1025.7L554.2 1026.5L554.8 1027.2L555.5 1028.0L556.1 1028.7L556.8 1029.5L557.4 1030.3L558.1 1031.0L558.7 1031.8L559.4 1032.6L560.0 1033.3L560.7 1034.1L561.3 1034.9L562.0 1035.6L562.6 1036.4L563.3 1037.1L563.9 1037.9L564.6 1038.6L565.2 1039.4L565.9 1040.1L566.5 1040.9L567.2 1041.6L567.9 1042.4L568.5 1043.1L569.2 1043.9L569.9 1044.7L570.5 1045.4L571.2 1046.2L571.9 1047.0L572.5 1047.7L573.2 1048.4L573.9 1049.1L574.6 1049.8L575.3 1050.5L576.0 1051.2L576.7 1052.0L577.4 1052.7L578.1 1053.4L578.8 1054.1L579.5 1054.8L580.2 1055.6L580.9 1056.4L581.6 1057.1L582.4 1057.7L583.1 1058.3L583.9 1058.9L584.6 1059.5L585.3 1060.2L586.1 1060.9L586.8 1061.5L587.6 1062.3L588.3 1063.0L589.1 1063.6L589.8 1064.2L590.6 1065.0L591.3 1065.7L592.1 1066.3L592.8 1067.0L593.6 1067.6L594.3 1068.2L595.1 1068.7L595.9 1069.4L596.6 1070.0L597.4 1070.7L598.2 1071.4L599.0 1072.1L599.7 1072.5L600.6 1073.0L601.4 1073.4L602.2 1074.1L603.0 1075.0L603.9 1075.7L604.7 1076.0L605.6 1076.3L606.4 1076.8L607.3 1077.3L608.1 1077.8L609.0 1078.5L609.9 1079.1L610.8 1079.3L611.7 1079.6L612.6 1080.2L613.5 1080.7L614.4 1081.0L615.4 1080.9L616.4 1081.2L617.4 1081.4L618.3 1081.2L619.3 1081.1L620.3 1080.9L621.3 1080.7L622.2 1080.1L623.0 1079.5L623.8 1079.0L624.6 1078.6L625.3 1078.0L626.0 1077.2L626.7 1076.4L627.3 1075.6L627.9 1074.8L628.4 1073.9L629.0 1073.1L629.5 1072.2L629.9 1071.3L630.4 1070.4L630.8 1069.5L631.2 1068.6L631.6 1067.7L632.0 1066.8L632.3 1065.9L632.7 1064.9L633.0 1064.0L633.4 1063.0L633.7 1062.1L634.0 1061.1L634.3 1060.2L634.6 1059.2L634.8 1058.2L635.1 1057.3L635.3 1056.3L635.6 1055.3L635.8 1054.4L636.0 1053.4L636.2 1052.4L636.5 1051.4L636.7 1050.5L636.9 1049.5L637.1 1048.5L637.4 1047.6L637.6 1046.6L637.9 1045.6L638.1 1044.6L638.3 1043.7L638.5 1042.7L638.8 1041.7L639.0 1040.7L639.2 1039.8L639.4 1038.8L639.6 1037.8L639.9 1036.8L640.1 1035.9L640.4 1034.9L640.6 1033.9L640.9 1033.0L641.2 1032.0L641.5 1031.1L641.8 1030.1L642.1 1029.2L642.5 1028.2L642.9 1027.3L643.3 1026.4L643.7 1025.5L644.1 1024.6L644.5 1023.7L644.9 1022.8L645.4 1021.9L645.8 1021.0L646.2 1020.0L646.6 1019.1L647.0 1018.2L647.3 1017.3L647.7 1016.3L648.0 1015.4L648.3 1014.4L648.6 1013.5L648.9 1012.5L649.2 1011.6L649.5 1010.6L649.8 1009.7L650.1 1008.7L650.3 1007.7L650.5 1006.7L650.8 1005.8L651.0 1004.8L651.2 1003.8L651.4 1002.8L651.6 1001.9L651.7 1000.9L651.9 999.9L652.0 998.9L652.2 997.9L652.3 996.9L652.5 995.9L652.6 994.9L652.7 993.9L652.9 992.9L653.0 992.0L653.1 991.0L653.3 990.0L653.4 989.0L653.5 988.0L653.7 987.0L653.8 986.0L654.0 985.0L654.2 984.0L654.3 983.1L654.5 982.1L654.7 981.1L654.9 980.1L655.1 979.1L655.3 978.2L655.5 977.2L655.7 976.2L656.0 975.2L656.2 974.2L656.4 973.3L656.7 972.3L656.9 971.3L657.2 970.4L657.4 969.4L657.7 968.4L658.0 967.5L658.3 966.5L658.6 965.6L658.9 964.6L659.3 963.7L659.7 962.8L660.1 961.9L660.7 961.1L661.6 960.8L662.5 961.5L663.2 962.2L663.7 963.1L664.0 964.0L664.2 965.0L664.5 966.0L664.6 967.0L664.8 967.9L665.0 968.9L665.1 969.9L665.2 970.9L665.4 971.9L665.5 972.9L665.7 973.9L665.8 974.9L666.0 975.9L666.2 976.8L666.4 977.8L666.6 978.8L666.8 979.8L667.0 980.8L667.2 981.7L667.4 982.7L667.7 983.7L667.9 984.6L668.2 985.6L668.5 986.5L668.9 987.5L669.3 988.4L669.6 989.3L670.1 990.3L670.5 991.1L671.0 992.0L671.5 992.9L672.1 993.7L672.7 994.5L673.3 995.2L674.0 995.8L674.7 996.4L675.5 997.1L676.3 997.9L677.1 998.7L678.1 999.2L679.0 999.6L680.0 999.5L681.0 999.0L681.9 998.5L682.8 998.0L683.7 997.4L684.3 996.7L685.1 996.4L686.1 996.6L686.8 996.9L687.5 997.5L688.2 998.3L688.9 999.0L689.7 999.6L690.6 999.9L691.6 999.3L692.4 998.7L693.1 998.1L693.8 997.5L694.6 997.0L695.5 996.7L696.5 996.8L697.0 997.6L697.4 998.5L697.6 999.5L697.8 1000.5L698.0 1001.5L698.1 1002.5L698.2 1003.5L698.3 1004.5L698.4 1005.5L698.5 1006.5L698.5 1007.5L698.6 1008.4L698.7 1009.4L698.8 1010.4L698.9 1011.4L699.0 1012.4L699.0 1013.4L699.1 1014.4L699.2 1015.4L699.3 1016.4L699.4 1017.4L699.5 1018.4L699.6 1019.4L699.7 1020.4L699.8 1021.4L699.9 1022.4L700.0 1023.4L700.1 1024.4L700.2 1025.4L700.3 1026.4L700.4 1027.4L700.5 1028.4L700.6 1029.4L700.7 1030.4L700.8 1031.3L700.9 1032.3L701.0 1033.3L701.1 1034.3L701.2 1035.3L701.3 1036.3L701.5 1037.3L701.6 1038.3L701.7 1039.3L701.8 1040.3L701.9 1041.3L702.0 1042.3L702.1 1043.3L702.3 1044.3L702.4 1045.3L702.5 1046.2L702.7 1047.2L702.8 1048.2L703.0 1049.2L703.1 1050.2L703.3 1051.2L703.5 1052.2L703.7 1053.2L703.8 1054.1L704.0 1055.1L704.2 1056.1L704.4 1057.1L704.7 1058.1L704.9 1059.0L705.1 1060.0L705.3 1061.0L705.6 1061.9L705.9 1062.9L706.1 1063.9L706.4 1064.8L706.7 1065.8L707.0 1066.7L707.3 1067.7L707.6 1068.6L707.9 1069.6L708.3 1070.5L708.7 1071.4L709.1 1072.4L709.5 1073.3L710.0 1074.2L710.4 1075.0L710.9 1075.9L711.4 1076.8L711.9 1077.6L712.5 1078.5L713.0 1079.3L713.5 1080.2L714.1 1081.0L714.7 1081.8L715.3 1082.6L715.8 1083.4L716.4 1084.2L717.0 1085.1L717.6 1085.9L718.2 1086.7L718.8 1087.5L719.4 1088.3L720.0 1089.0L720.6 1089.8L721.3 1090.6L721.9 1091.4L722.6 1092.2L723.2 1092.9L723.9 1093.7L724.6 1094.4L725.3 1095.1L726.0 1095.8L726.7 1096.3L727.5 1097.0L728.3 1097.8L729.1 1098.5L729.9 1098.8L730.7 1099.4L731.5 1100.0L732.3 1100.7L733.2 1101.2L734.1 1101.7L734.9 1102.2L735.8 1103.1L736.7 1103.7L737.6 1104.1L738.5 1104.5L739.4 1104.7L740.4 1104.8L741.3 1105.1L742.3 1105.3L743.2 1105.7L744.2 1106.4L745.1 1106.6L746.1 1106.5L747.1 1106.5L748.0 1107.1L749.0 1107.7L750.0 1107.4L750.9 1107.2L751.9 1108.1L752.9 1108.6L753.8 1108.2L754.8 1108.1L755.7 1108.6L756.7 1109.2L757.7 1109.3L758.6 1109.3L759.6 1110.1L760.6 1111.0L761.5 1111.1L762.5 1111.0L763.4 1111.1L764.4 1111.4L765.4 1111.6L766.3 1111.9L767.3 1112.6L768.2 1113.1L769.1 1112.9L770.1 1112.6L771.0 1112.9L771.9 1113.8L772.9 1114.7L773.8 1115.5L774.7 1116.1L775.6 1116.2L776.6 1115.9L777.5 1115.9L778.4 1116.7L779.4 1117.4L780.3 1117.6L781.3 1117.8L782.2 1118.3L783.2 1118.6L784.1 1118.5L785.1 1118.9L786.0 1119.3L787.0 1119.4L787.9 1119.9L788.9 1120.6L789.8 1120.5L790.8 1120.2L791.8 1120.5L792.7 1120.9L793.7 1121.2L794.6 1121.7L795.6 1122.4L796.5 1122.9L797.5 1122.8L798.5 1122.6L799.4 1123.0L800.4 1124.0L801.3 1124.6L802.3 1124.4L803.3 1124.1L804.2 1124.4L805.2 1124.9L806.2 1125.3L807.1 1125.7L808.1 1126.1L809.1 1126.8L810.0 1127.2L811.0 1126.5L812.0 1126.3L812.9 1126.9L813.9 1127.3L814.9 1127.5L815.9 1127.2L816.8 1127.1L817.8 1127.4L818.8 1127.6L819.8 1128.2L820.7 1128.7L821.7 1128.6L822.7 1128.8L823.7 1129.3L824.7 1129.6L825.7 1129.8L826.6 1130.2L827.6 1130.4L828.6 1130.4L829.6 1130.0L830.6 1129.8L831.6 1130.2L832.6 1131.0L833.6 1131.2L834.5 1130.8L835.5 1130.8L836.5 1131.3L837.5 1131.5L838.5 1131.1L839.5 1130.8L840.5 1131.1L841.5 1131.9L842.4 1132.8L843.4 1132.8L844.4 1132.1L845.4 1132.0L846.4 1132.7L847.4 1133.4L848.4 1133.6L849.4 1133.5L850.3 1133.4L851.3 1133.7L852.3 1134.0L853.3 1134.4L854.3 1134.8L855.3 1135.2L856.3 1135.3L857.3 1134.9L858.3 1134.5L859.3 1134.4L860.2 1134.6L861.2 1134.9L862.2 1135.2L863.2 1135.5L864.2 1135.6L865.2 1135.5L866.2 1135.3L867.2 1135.4L868.2 1136.1L869.2 1136.7L870.2 1136.6L871.2 1136.9L872.2 1137.4L873.2 1137.2L874.2 1136.4L875.2 1135.7L876.2 1136.0L877.2 1136.7L878.2 1137.0L879.2 1137.4L880.2 1137.9L881.1 1138.2L882.1 1138.4L883.1 1138.0L884.1 1137.3L885.1 1137.1L886.1 1137.0L887.1 1137.1L888.1 1137.9L889.1 1138.4L890.1 1138.3L891.1 1138.0L892.1 1137.8L893.1 1138.0L894.1 1138.3L895.0 1138.5L896.0 1139.2L897.0 1139.8L898.0 1139.5L899.0 1139.1L900.0 1139.2L901.0 1139.2L902.0 1139.7L903.0 1140.1L904.0 1139.6L905.0 1139.0L906.0 1139.4L907.0 1140.1L908.0 1140.3L909.0 1140.1L910.0 1139.8L911.0 1139.7L912.0 1140.0L912.9 1140.5L913.9 1140.9L914.9 1141.1L915.9 1141.2L916.9 1141.2L917.9 1141.0L918.9 1140.9L919.9 1141.3L920.9 1141.4L921.9 1141.4L922.9 1141.8L923.9 1141.9L924.9 1142.0L925.9 1142.5L926.9 1142.2L927.9 1141.7L928.9 1142.3L929.9 1142.4L930.8 1142.0L931.8 1142.2L932.8 1142.9L933.8 1143.1L934.8 1142.6L935.8 1142.4L936.8 1142.8L937.8 1143.1L938.8 1142.8L939.8 1142.6L940.8 1143.3L941.8 1143.9L942.8 1144.0L943.8 1143.9L944.8 1143.7L945.8 1143.6L946.8 1143.8L947.8 1143.9L948.8 1143.7L949.8 1143.6L950.8 1143.9L951.8 1144.2L952.8 1144.3L953.8 1143.9L954.8 1143.5L955.8 1143.6L956.8 1143.8L957.8 1144.1L958.8 1144.3L959.8 1144.5L960.8 1144.9L961.8 1145.1L962.8 1144.7L963.8 1144.1L964.8 1143.8L965.8 1144.1L966.8 1144.7L967.8 1145.5L968.8 1145.9L969.8 1145.2L970.8 1144.5L971.8 1144.3L972.8 1144.6L973.8 1145.1L974.8 1145.2L975.8 1145.0L976.8 1145.2L977.8 1145.7L978.8 1145.6L979.8 1144.9L980.8 1144.9L981.8 1145.4L982.8 1145.6L983.8 1145.7L984.8 1145.6L985.8 1145.6L986.8 1145.6L987.8 1145.4L988.7 1145.4L989.7 1145.3L990.7 1145.4L991.7 1145.6L992.7 1145.4L993.7 1145.2L994.7 1145.4L995.7 1145.8L996.7 1146.7L997.7 1147.4L998.7 1147.3L999.7 1146.8L1000.7 1146.3L1001.7 1145.9L1002.7 1145.5L1003.7 1145.2L1004.7 1145.5L1005.7 1146.2L1006.7 1147.1L1007.7 1147.8L1008.7 1147.7L1009.7 1147.4L1010.7 1147.2L1011.7 1147.2L1012.7 1147.2L1013.7 1147.2L1014.7 1147.6L1015.7 1147.3L1016.7 1146.3L1017.7 1146.1L1018.7 1146.3L1019.7 1146.1L1020.7 1146.1L1021.7 1146.2L1022.7 1146.2L1023.7 1146.2L1024.7 1146.0L1025.7 1145.8L1026.7 1146.3L1027.7 1146.8L1028.7 1146.6L1029.7 1146.1L1030.7 1146.2L1031.7 1146.7L1032.7 1147.1L1033.7 1147.4L1034.7 1147.5L1035.7 1147.3L1036.7 1146.9L1037.7 1146.4L1038.7 1146.1L1039.7 1146.3L1040.7 1146.6L1041.7 1146.7L1042.7 1146.7L1043.7 1146.7L1044.7 1147.1L1045.7 1147.3L1046.7 1146.9L1047.7 1146.5L1048.7 1146.5L1049.7 1146.5L1050.7 1146.3L1051.6 1146.2L1052.6 1146.5L1053.6 1146.4L1054.6 1145.8L1055.5 1145.7L1056.5 1146.4L1057.5 1146.6L1058.5 1145.8L1059.5 1144.8L1060.5 1144.6L1061.5 1144.7L1062.5 1144.7L1063.5 1145.1L1064.5 1145.4L1065.5 1145.2L1066.5 1145.1L1067.5 1144.8L1068.5 1144.4L1069.5 1144.6L1070.5 1145.1L1071.5 1145.2L1072.5 1144.7L1073.5 1144.6L1074.4 1144.8L1075.4 1144.7L1076.4 1144.6L1077.4 1145.1L1078.4 1145.4L1079.4 1145.0L1080.4 1144.7L1081.4 1145.0L1082.4 1145.3L1083.4 1145.6L1084.4 1146.1L1085.4 1146.9L1086.4 1147.3L1087.4 1146.7L1088.4 1145.7L1089.4 1145.6L1090.4 1145.9L1091.4 1145.5L1092.4 1144.5L1093.4 1144.2L1094.3 1144.5L1095.2 1144.3L1096.1 1143.9L1097.1 1143.9L1098.1 1144.5L1099.0 1144.5L1099.7 1145.1L1100.2 1146.0L1100.9 1146.3L1101.7 1146.8L1102.7 1147.5L1103.6 1148.1L1104.6 1148.5L1105.6 1148.2L1106.6 1147.7L1107.5 1148.0L1108.5 1148.6L1109.5 1148.8L1110.5 1149.1L1111.5 1149.1L1112.5 1148.4L1113.5 1148.1L1114.5 1148.7L1115.5 1149.2L1116.5 1149.1L1117.5 1149.0L1118.5 1149.3L1119.5 1149.7L1120.5 1149.1L1121.5 1148.1L1122.4 1148.0L1123.4 1148.2L1124.4 1147.8L1125.4 1147.3L1126.3 1147.0L1127.3 1146.9L1128.3 1146.9L1129.3 1146.7L1130.2 1146.2L1131.2 1146.3L1132.2 1146.6L1133.2 1146.1L1134.2 1145.7L1135.2 1145.7L1136.2 1145.8L1137.2 1146.0L1138.2 1146.2L1139.2 1146.1L1140.2 1145.7L1141.2 1146.0L1142.2 1146.6L1143.2 1146.4L1144.2 1146.0L1145.2 1145.9L1146.2 1146.0L1147.2 1146.1L1148.2 1146.2L1149.2 1146.1L1150.2 1146.1L1151.2 1146.1L1152.2 1146.0L1153.2 1146.1L1154.2 1146.3L1155.2 1146.1L1156.2 1146.1L1157.2 1146.6L1158.2 1146.5L1159.2 1146.2L1160.2 1146.5L1161.1 1146.7L1162.1 1146.8L1163.1 1146.7L1164.0 1146.4L1165.0 1146.7L1166.0 1146.8L1167.0 1147.1L1168.0 1148.5L1169.0 1149.0L1170.0 1148.1L1171.0 1147.9L1172.0 1147.9L1173.0 1147.4L1174.0 1147.8L1175.0 1147.9L1176.0 1147.3L1177.0 1147.9L1178.0 1148.4L1179.0 1148.3L1180.0 1148.3L1181.0 1147.9L1182.0 1147.8L1183.0 1148.0L1184.0 1148.0L1185.0 1147.9L1186.0 1147.4L1187.0 1147.0L1188.0 1147.1L1189.0 1147.8L1190.0 1148.7L1191.0 1149.3L1192.0 1148.8L1193.0 1147.8L1194.0 1148.2L1195.0 1148.7L1195.9 1148.3L1196.9 1148.1L1197.9 1148.0L1198.9 1148.3L1199.9 1149.0L1200.9 1149.2L1201.9 1148.8L1202.9 1148.0L1203.9 1147.4L1204.9 1147.8L1205.9 1148.8L1206.9 1149.0L1207.9 1148.9L1208.9 1149.2L1209.9 1149.8L1210.9 1150.0L1211.9 1149.6L1212.9 1149.4L1213.9 1149.2L1214.9 1148.7L1215.9 1148.4L1216.9 1148.4L1217.9 1148.1L1218.9 1148.2L1219.9 1148.6L1220.9 1148.1L1221.9 1147.6L1222.9 1147.9L1223.9 1148.1L1224.9 1148.3L1225.9 1148.9L1226.9 1149.3L1227.9 1149.4L1228.9 1149.2L1229.9 1148.9L1230.9 1148.9L1231.9 1148.5L1232.9 1147.8L1233.9 1147.5L1234.8 1147.4L1235.7 1147.2L1236.5 1146.9L1237.3 1146.3L1238.0 1145.6L1238.7 1144.8L1239.3 1144.1L1240.0 1143.3L1240.6 1142.5L1241.2 1141.7L1241.8 1140.9L1242.4 1140.1L1243.0 1139.3L1243.7 1138.6L1244.4 1138.0L1245.2 1137.4L1246.1 1136.9L1247.0 1136.4L1248.0 1136.1L1249.0 1135.9L1250.0 1135.7L1250.9 1135.4L1251.8 1135.2L1252.6 1134.7L1253.3 1134.0L1254.0 1133.1L1254.6 1132.4L1255.1 1131.5L1255.6 1130.7L1256.1 1129.8L1256.5 1128.9L1256.9 1127.9L1257.2 1127.0L1257.5 1126.0L1257.8 1125.1L1258.0 1124.1L1258.2 1123.1L1258.4 1122.1L1258.6 1121.1L1258.7 1120.2L1258.9 1119.2L1259.0 1118.2L1259.1 1117.2L1259.3 1116.2L1259.4 1115.2L1259.5 1114.2L1259.6 1113.2L1259.7 1112.2L1259.8 1111.2L1259.9 1110.2L1260.0 1109.2L1260.1 1108.2L1260.2 1107.2L1260.3 1106.2L1260.4 1105.3L1260.5 1104.3L1260.6 1103.3L1260.7 1102.3L1260.9 1101.3L1261.0 1100.3L1261.1 1099.3L1261.2 1098.3L1261.3 1097.3L1261.4 1096.3L1261.5 1095.3L1261.6 1094.3L1261.7 1093.3L1261.8 1092.3L1261.9 1091.3L1262.0 1090.3L1262.1 1089.3L1262.3 1088.3L1262.4 1087.4L1262.5 1086.4L1262.6 1085.4L1262.7 1084.4L1262.8 1083.4L1262.9 1082.4L1263.0 1081.4L1263.1 1080.4L1263.2 1079.4L1263.3 1078.4L1263.4 1077.4L1263.5 1076.4L1263.6 1075.4L1263.7 1074.4L1263.8 1073.4L1263.9 1072.4L1264.0 1071.4L1264.2 1070.5L1264.3 1069.5L1264.4 1068.5L1264.5 1067.5L1264.6 1066.5L1264.8 1065.5L1264.9 1064.5L1265.0 1063.5L1265.2 1062.5L1265.3 1061.5L1265.4 1060.5L1265.6 1059.5L1265.8 1058.6L1265.9 1057.6L1266.1 1056.6L1266.3 1055.6L1266.5 1054.6L1266.7 1053.7L1267.0 1052.7L1267.3 1051.7L1267.7 1050.8L1268.2 1049.9L1268.9 1049.5L1269.7 1049.7L1270.1 1050.6L1270.4 1051.6L1270.7 1052.6L1270.9 1053.5L1271.1 1054.5L1271.3 1055.5L1271.5 1056.5L1271.7 1057.4L1271.9 1058.4L1272.1 1059.4L1272.3 1060.4L1272.6 1061.3L1272.8 1062.3L1273.0 1063.3L1273.3 1064.3L1273.5 1065.2L1273.7 1066.2L1274.0 1067.2L1274.2 1068.2L1274.5 1069.1L1274.7 1070.1L1275.0 1071.1L1275.3 1072.0L1275.6 1073.0L1275.9 1073.9L1276.2 1074.9L1276.5 1075.8L1276.8 1076.8L1277.1 1077.7L1277.5 1078.6L1277.8 1079.6L1278.2 1080.5L1278.6 1081.4L1279.0 1082.4L1279.3 1083.3L1279.8 1084.2L1280.2 1085.1L1280.6 1086.0L1281.1 1086.9L1281.5 1087.8L1282.0 1088.7L1282.5 1089.5L1283.0 1090.4L1283.4 1091.3L1283.9 1092.2L1284.3 1093.1L1284.9 1093.9L1285.6 1094.7L1286.5 1095.6L1287.5 1096.0L1288.5 1095.6L1289.4 1095.2L1290.3 1094.8L1291.1 1094.0L1291.8 1093.0L1292.4 1092.2L1293.0 1091.3L1293.5 1090.5L1294.1 1089.7L1294.7 1088.9L1295.2 1088.1L1295.8 1087.2L1296.3 1086.4L1296.9 1085.5L1297.3 1084.7L1297.8 1083.8L1298.2 1082.9L1298.6 1081.9L1299.0 1081.0L1299.3 1080.1L1299.6 1079.1L1299.9 1078.2L1300.2 1077.2L1300.5 1076.3L1300.8 1075.3L1301.0 1074.3L1301.3 1073.4L1301.6 1072.4L1301.9 1071.4L1302.1 1070.5L1302.4 1069.5L1302.7 1068.6L1302.9 1067.6L1303.2 1066.6L1303.5 1065.7L1303.7 1064.7L1304.0 1063.7L1304.2 1062.8L1304.5 1061.8L1304.7 1060.8L1305.0 1059.9L1305.3 1058.9L1305.6 1057.9L1305.9 1057.0L1306.3 1056.1L1306.7 1055.2L1307.2 1054.3L1307.7 1053.4L1308.2 1052.6L1308.7 1051.7L1309.1 1050.8L1309.5 1049.9L1309.8 1048.9L1310.1 1048.0L1310.3 1047.0L1310.5 1046.0L1310.7 1045.0L1310.8 1044.0L1311.0 1043.1L1311.2 1042.1L1311.4 1041.1L1311.6 1040.1L1311.8 1039.1L1312.1 1038.2L1312.4 1037.2L1312.7 1036.3L1312.9 1035.3L1313.2 1034.3L1313.5 1033.4L1313.8 1032.4L1314.1 1031.5L1314.4 1030.5L1314.8 1029.6L1315.1 1028.6L1315.4 1027.7L1315.7 1026.7L1316.1 1025.8L1316.5 1024.9L1316.9 1024.0L1317.3 1023.1L1317.8 1022.2L1318.2 1021.3L1318.6 1020.3L1318.9 1019.4L1319.2 1018.5L1319.5 1017.5L1319.7 1016.5L1319.9 1015.5L1320.1 1014.5L1320.2 1013.6L1320.3 1012.6L1320.5 1011.6L1320.6 1010.6L1320.8 1009.6L1321.0 1008.6L1321.3 1007.7L1321.7 1006.8L1322.3 1005.9L1323.0 1005.4L1323.9 1004.7L1324.8 1004.5L1325.8 1004.1L1326.8 1004.5L1327.6 1005.3L1328.3 1006.0L1328.8 1006.8L1329.2 1007.7L1329.6 1008.7L1329.9 1009.6L1330.2 1010.6L1330.5 1011.5L1330.8 1012.5L1331.1 1013.4L1331.5 1014.4L1331.8 1015.3L1332.2 1016.2L1332.5 1017.2L1332.8 1018.1L1333.2 1019.1L1333.5 1020.0L1333.8 1021.0L1334.0 1021.9L1334.3 1022.9L1334.5 1023.9L1334.8 1024.8L1335.0 1025.8L1335.2 1026.8L1335.4 1027.8L1335.7 1028.8L1335.9 1029.7L1336.1 1030.7L1336.3 1031.7L1336.5 1032.7L1336.7 1033.6L1336.9 1034.6L1337.1 1035.6L1337.3 1036.6L1337.5 1037.5L1337.8 1038.5L1338.0 1039.5L1338.2 1040.5L1338.4 1041.5L1338.6 1042.4L1338.9 1043.4L1339.1 1044.4L1339.3 1045.4L1339.5 1046.3L1339.7 1047.3L1339.9 1048.3L1340.1 1049.3L1340.4 1050.2L1340.6 1051.2L1340.8 1052.2L1341.0 1053.2L1341.2 1054.2L1341.3 1055.1L1341.5 1056.1L1341.7 1057.1L1341.9 1058.1L1342.1 1059.1L1342.3 1060.0L1342.5 1061.0L1342.7 1062.0L1342.9 1063.0L1343.1 1064.0L1343.3 1065.0L1343.5 1065.9L1343.7 1066.9L1343.9 1067.9L1344.1 1068.9L1344.3 1069.9L1344.5 1070.8L1344.7 1071.8L1344.9 1072.8L1345.1 1073.8L1345.3 1074.8L1345.4 1075.7L1345.6 1076.7L1345.8 1077.7L1346.0 1078.7L1346.2 1079.7L1346.4 1080.6L1346.6 1081.6L1346.8 1082.6L1347.0 1083.6L1347.2 1084.6L1347.4 1085.5L1347.6 1086.5L1347.8 1087.5L1348.0 1088.5L1348.2 1089.5L1348.4 1090.5L1348.6 1091.4L1348.8 1092.4L1349.0 1093.4L1349.2 1094.4L1349.4 1095.3L1349.6 1096.3L1349.8 1097.3L1350.0 1098.3L1350.2 1099.3L1350.4 1100.2L1350.6 1101.2L1350.8 1102.2L1351.1 1103.2L1351.3 1104.1L1351.5 1105.1L1351.7 1106.1L1352.0 1107.1L1352.2 1108.0L1352.5 1109.0L1352.7 1110.0L1353.0 1110.9L1353.2 1111.9L1353.5 1112.9L1353.8 1113.8L1354.0 1114.8L1354.3 1115.8L1354.6 1116.7L1354.9 1117.7L1355.1 1118.6L1355.4 1119.6L1355.7 1120.6L1356.0 1121.5L1356.2 1122.5L1356.5 1123.5L1356.7 1124.4L1357.0 1125.4L1357.3 1126.4L1357.5 1127.3L1357.8 1128.3L1358.0 1129.2L1358.3 1130.2L1358.7 1131.1L1359.0 1132.1L1359.5 1133.0L1360.1 1133.8L1360.7 1134.5L1361.3 1135.3L1361.9 1136.2L1362.3 1137.1L1362.7 1138.0L1363.0 1138.9L1363.4 1139.9L1363.8 1140.8L1364.1 1141.7L1364.5 1142.6L1365.0 1143.5L1365.5 1144.4L1366.2 1145.2L1367.0 1145.8L1367.9 1146.2L1368.8 1146.8L1369.7 1147.4L1370.7 1147.9L1371.5 1148.2L1372.4 1148.4L1373.3 1148.7L1374.3 1148.8L1375.3 1148.7L1376.3 1148.5L1377.2 1148.3L1378.2 1148.1L1379.2 1148.1L1380.2 1148.0L1381.1 1148.1L1382.1 1148.7L1383.0 1149.6L1384.0 1150.1L1384.9 1149.0L1385.8 1148.0L1386.7 1147.6L1387.4 1147.0L1388.1 1146.2L1388.6 1145.4L1389.1 1144.5L1389.5 1143.6L1389.9 1142.7L1390.2 1141.8L1390.6 1140.8L1390.9 1139.9L1391.2 1138.9L1391.5 1138.0L1391.8 1137.0L1392.1 1136.1L1392.4 1135.1L1392.7 1134.2L1393.0 1133.2L1393.3 1132.3L1393.6 1131.3L1393.9 1130.4L1394.2 1129.4L1394.5 1128.5L1394.8 1127.5L1395.1 1126.5L1395.4 1125.6L1395.7 1124.6L1396.0 1123.7L1396.2 1122.7L1396.5 1121.7L1396.8 1120.8L1397.0 1119.8L1397.3 1118.8L1397.5 1117.9L1397.7 1116.9L1397.9 1115.9L1398.1 1114.9L1398.3 1113.9L1398.5 1113.0L1398.7 1112.0L1398.9 1111.0L1399.0 1110.0L1399.2 1109.0L1399.3 1108.0L1399.5 1107.0L1399.6 1106.1L1399.7 1105.1L1399.9 1104.1L1400.0 1103.1L1400.1 1102.1L1400.2 1101.1L1400.3 1100.1L1400.5 1099.1L1400.6 1098.1L1400.7 1097.1L1400.8 1096.1L1400.9 1095.1L1401.0 1094.1L1401.1 1093.1L1401.3 1092.1L1401.4 1091.2L1401.5 1090.2L1401.6 1089.2L1401.7 1088.2L1401.8 1087.2L1401.9 1086.2L1402.0 1085.2L1402.1 1084.2L1402.2 1083.2L1402.3 1082.2L1402.4 1081.2L1402.5 1080.2L1402.6 1079.2L1402.7 1078.2L1402.9 1077.2L1403.0 1076.2L1403.1 1075.2L1403.2 1074.3L1403.3 1073.3L1403.4 1072.3L1403.6 1071.3L1403.7 1070.3L1403.8 1069.3L1403.9 1068.3L1404.1 1067.3L1404.2 1066.3L1404.3 1065.3L1404.5 1064.3L1404.6 1063.3L1404.8 1062.4L1404.9 1061.4L1405.1 1060.4L1405.2 1059.4L1405.4 1058.4L1405.6 1057.4L1405.7 1056.4L1405.9 1055.5L1406.1 1054.5L1406.3 1053.5L1406.5 1052.5L1406.7 1051.5L1406.9 1050.5L1407.1 1049.6L1407.3 1048.6L1407.6 1047.6L1407.8 1046.7L1408.1 1045.7L1408.5 1044.8L1408.8 1043.8L1409.2 1042.9L1409.7 1042.0L1410.1 1041.1L1410.6 1040.2L1411.0 1039.4L1411.7 1038.4L1412.6 1038.4L1413.1 1039.5L1413.5 1040.4L1413.8 1041.3L1414.2 1042.3L1414.5 1043.2L1414.8 1044.2L1415.0 1045.1L1415.3 1046.1L1415.5 1047.1L1415.8 1048.0L1416.1 1049.0L1416.5 1049.9L1416.9 1050.8L1417.3 1051.7L1417.7 1052.6L1418.2 1053.5L1418.6 1054.4L1419.1 1055.3L1419.7 1056.1L1420.3 1056.8L1421.0 1056.9L1421.9 1057.2L1422.9 1058.0L1423.9 1058.2L1424.8 1057.4L1425.4 1056.4L1425.8 1055.5L1426.2 1054.5L1426.6 1053.6L1426.9 1052.7L1427.2 1051.7L1427.5 1050.7L1427.7 1049.8L1428.0 1048.8L1428.3 1047.9L1428.6 1046.9L1428.8 1045.9L1429.1 1045.0L1429.4 1044.0L1429.7 1043.1L1429.9 1042.1L1430.2 1041.1L1430.4 1040.2L1430.7 1039.2L1431.0 1038.2L1431.2 1037.3L1431.5 1036.3L1431.8 1035.4L1432.2 1034.4L1432.5 1033.5L1433.0 1032.6L1433.5 1031.7L1434.0 1030.9L1434.5 1030.0L1434.9 1029.1L1435.3 1028.2L1435.6 1027.2L1435.9 1026.3L1436.3 1025.3L1436.6 1024.4L1436.9 1023.4L1437.2 1022.5L1437.5 1021.5L1437.8 1020.6L1438.1 1019.6L1438.4 1018.6L1438.6 1017.7L1438.9 1016.7L1439.1 1015.7L1439.4 1014.8L1439.8 1013.9L1440.3 1012.9L1441.1 1012.0L1442.1 1012.1L1443.1 1012.4L1444.0 1012.9L1444.8 1013.6L1445.4 1014.5L1446.0 1015.2L1446.7 1015.8L1447.7 1015.8L1448.6 1015.0L1449.6 1014.5L1450.5 1014.3L1451.4 1014.5L1452.4 1015.0L1453.4 1015.0L1454.4 1014.5L1455.3 1014.0L1456.0 1013.6L1456.7 1013.1L1457.3 1012.2L1457.8 1011.4L1458.2 1010.5L1458.6 1009.5L1458.9 1008.6L1459.1 1007.6L1459.4 1006.7L1459.6 1005.7L1459.8 1004.7L1460.0 1003.7L1460.2 1002.7L1460.4 1001.8L1460.5 1000.8L1460.7 999.8L1460.9 998.8L1461.1 997.8L1461.3 996.8L1461.5 995.9L1461.7 994.9L1461.8 993.9L1462.0 992.9L1462.2 991.9L1462.3 990.9L1462.5 989.9L1462.7 989.0L1462.9 988.0L1463.1 987.0L1463.3 986.0L1463.5 985.1L1463.8 984.1L1464.0 983.1L1464.3 982.2L1464.6 981.2L1465.0 980.3L1465.6 978.9L1466.4 979.7L1466.8 980.7L1467.1 981.7L1467.3 982.7L1467.6 983.6L1467.7 984.6L1467.9 985.6L1468.1 986.6L1468.2 987.6L1468.3 988.6L1468.4 989.6L1468.6 990.6L1468.7 991.6L1468.8 992.6L1468.9 993.5L1469.0 994.5L1469.2 995.5L1469.3 996.5L1469.4 997.5L1469.6 998.5L1469.7 999.5L1469.8 1000.5L1470.0 1001.5L1470.1 1002.5L1470.2 1003.5L1470.4 1004.4L1470.5 1005.4L1470.7 1006.4L1470.8 1007.4L1471.0 1008.4L1471.2 1009.4L1471.4 1010.4L1471.7 1011.3L1472.0 1012.3L1472.3 1013.2L1472.6 1014.2L1473.1 1015.1L1473.5 1016.0L1473.9 1016.9L1474.4 1017.7L1475.0 1018.5L1475.6 1019.3L1476.2 1020.1L1476.8 1021.0L1477.2 1021.9L1477.6 1022.8L1478.0 1023.7L1478.3 1024.7L1478.6 1025.6L1478.9 1026.6L1479.2 1027.5L1479.5 1028.5L1479.8 1029.4L1480.0 1030.4L1480.3 1031.4L1480.6 1032.3L1480.9 1033.3L1481.2 1034.2L1481.5 1035.2L1481.9 1036.1L1482.2 1037.1L1482.7 1038.0L1483.6 1038.6L1484.5 1038.6L1485.4 1038.2L1486.3 1037.8L1487.1 1037.3L1488.0 1037.0L1489.0 1036.7L1490.0 1036.6L1490.9 1036.8L1491.8 1037.2L1492.6 1037.7L1493.4 1038.4L1494.1 1039.1L1494.8 1039.9L1495.4 1040.7L1496.0 1041.5L1496.6 1042.3L1497.2 1043.1L1497.8 1043.9L1498.3 1044.7L1498.9 1045.5L1499.5 1046.3L1500.1 1047.2L1500.6 1048.0L1501.2 1048.8L1501.8 1049.6L1502.4 1050.4L1503.0 1051.2L1503.6 1052.0L1504.3 1052.8L1504.9 1053.4L1505.7 1054.0L1506.6 1054.5L1507.6 1054.3L1508.4 1053.7L1509.0 1052.9L1509.4 1052.0L1509.8 1051.1L1510.1 1050.1L1510.4 1049.2L1510.7 1048.2L1510.9 1047.2L1511.1 1046.2L1511.3 1045.3L1511.5 1044.3L1511.7 1043.3L1511.9 1042.3L1512.0 1041.3L1512.2 1040.3L1512.3 1039.3L1512.5 1038.4L1512.6 1037.4L1512.8 1036.4L1512.9 1035.4L1513.1 1034.4L1513.3 1033.4L1513.4 1032.4L1513.7 1031.5L1513.9 1030.5L1514.2 1029.5L1514.5 1028.6L1514.8 1027.6L1515.2 1026.7L1515.7 1025.9L1516.4 1025.1L1517.3 1025.0L1518.0 1025.8L1518.4 1026.7L1518.7 1027.7L1518.9 1028.7L1519.2 1029.6L1519.4 1030.6L1519.6 1031.6L1519.8 1032.6L1520.0 1033.5L1520.3 1034.5L1520.5 1035.5L1520.8 1036.4L1521.1 1037.4L1521.3 1038.4L1521.6 1039.3L1521.8 1040.3L1522.1 1041.3L1522.3 1042.3L1522.5 1043.2L1522.7 1044.2L1522.9 1045.2L1523.0 1046.2L1523.2 1047.2L1523.4 1048.2L1523.5 1049.1L1523.7 1050.1L1523.8 1051.1L1524.0 1052.1L1524.1 1053.1L1524.3 1054.1L1524.5 1055.1L1524.6 1056.1L1524.8 1057.0L1525.0 1058.0L1525.1 1059.0L1525.3 1060.0L1525.5 1061.0L1525.7 1062.0L1525.9 1062.9L1526.0 1063.9L1526.2 1064.9L1526.4 1065.9L1526.6 1066.9L1526.8 1067.9L1527.0 1068.8L1527.2 1069.8L1527.4 1070.8L1527.6 1071.8L1527.8 1072.7L1528.1 1073.7L1528.3 1074.7L1528.5 1075.7L1528.8 1076.6L1529.1 1077.6L1529.5 1078.5L1529.8 1079.4L1530.2 1080.4L1530.6 1081.3L1531.0 1082.2L1531.5 1083.1L1532.0 1084.0L1532.5 1084.8L1533.1 1085.6L1533.8 1086.3L1534.5 1087.0L1535.2 1087.6L1536.0 1088.1L1536.8 1088.8L1537.5 1089.5L1538.3 1090.1L1539.1 1090.8L1539.9 1091.5L1540.6 1092.1L1541.3 1092.8L1542.0 1093.6L1542.8 1094.4L1543.6 1095.2L1544.5 1095.5L1545.5 1095.5L1546.5 1095.6L1547.4 1095.3L1548.4 1095.0L1549.2 1094.6L1550.0 1094.2L1550.8 1093.6L1551.6 1092.8L1552.3 1092.0L1553.0 1091.2L1553.7 1090.4L1554.3 1089.6L1555.0 1088.8L1555.6 1088.1L1556.2 1087.3L1556.8 1086.5L1557.3 1085.6L1557.8 1084.8L1558.3 1083.9L1558.7 1083.0L1559.0 1082.0L1559.4 1081.1L1559.6 1080.1L1559.9 1079.1L1560.1 1078.2L1560.3 1077.2L1560.5 1076.2L1560.7 1075.2L1560.8 1074.2L1561.0 1073.2L1561.1 1072.3L1561.3 1071.3L1561.4 1070.3L1561.6 1069.3L1561.7 1068.3L1561.9 1067.3L1562.0 1066.3L1562.2 1065.3L1562.3 1064.3L1562.4 1063.3L1562.5 1062.4L1562.7 1061.4L1562.8 1060.4L1562.9 1059.4L1563.0 1058.4L1563.1 1057.4L1563.2 1056.4L1563.3 1055.4L1563.4 1054.4L1563.5 1053.4L1563.6 1052.4L1563.7 1051.4L1563.8 1050.4L1563.9 1049.4L1564.0 1048.4L1564.1 1047.4L1564.2 1046.4L1564.3 1045.4L1564.4 1044.5L1564.5 1043.5L1564.6 1042.5L1564.7 1041.5L1564.7 1040.5L1564.8 1039.5L1564.9 1038.5L1565.0 1037.5L1565.0 1036.5L1565.1 1035.5L1565.2 1034.5L1565.3 1033.5L1565.4 1032.5L1565.4 1031.5L1565.5 1030.5L1565.6 1029.5L1565.7 1028.5L1565.8 1027.5L1565.8 1026.5L1565.9 1025.5L1566.0 1024.5L1566.1 1023.5L1566.1 1022.5L1566.2 1021.5L1566.3 1020.5L1566.4 1019.5L1566.4 1018.5L1566.5 1017.5L1566.6 1016.5L1566.7 1015.5L1566.7 1014.5L1566.8 1013.5L1566.9 1012.5L1567.0 1011.6L1567.1 1010.6L1567.1 1009.6L1567.2 1008.6L1567.3 1007.6L1567.4 1006.6L1567.5 1005.6L1567.5 1004.6L1567.6 1003.6L1567.7 1002.6L1567.8 1001.6L1567.9 1000.6L1568.0 999.6L1568.0 998.6L1568.1 997.6L1568.2 996.6L1568.3 995.6L1568.4 994.6L1568.5 993.6L1568.6 992.6L1568.6 991.6L1568.7 990.6L1568.8 989.6L1568.9 988.6L1569.0 987.6L1569.1 986.6L1569.2 985.6L1569.3 984.6L1569.4 983.7L1569.4 982.7L1569.5 981.7L1569.6 980.7L1569.7 979.7L1569.8 978.7L1569.9 977.7L1570.0 976.7L1570.1 975.7L1570.3 974.7L1570.4 973.7L1570.5 972.7L1570.6 971.7L1570.7 970.7L1570.9 969.7L1571.0 968.7L1571.1 967.8L1571.2 966.8L1571.3 965.8L1571.4 964.8L1571.5 963.8L1571.6 962.8L1571.7 961.8L1571.8 960.8L1571.9 959.8L1571.9 958.8L1572.0 957.8L1572.0 956.8L1572.0 955.8L1572.0 954.8L1572.0 953.8L1572.0 952.8L1572.0 951.8L1572.0 950.8L1572.0 949.8L1572.0 948.8L1572.0 947.8L1572.1 946.8L1572.1 945.8L1572.1 944.8L1572.2 943.8L1572.2 942.8L1572.3 941.8L1572.3 940.8L1572.4 939.8L1572.5 938.8L1572.6 937.8L1572.7 936.8L1572.8 935.8L1572.9 934.8L1573.0 933.8L1573.1 932.8L1573.2 931.8L1573.3 930.8L1573.4 929.8L1573.5 928.9L1573.6 927.9L1573.7 926.9L1573.8 925.9L1574.0 924.9L1574.1 923.9L1574.2 922.9L1574.3 921.9L1574.4 920.9L1574.5 919.9L1574.7 918.9L1574.8 917.9L1574.9 916.9L1575.0 915.9L1575.1 915.0L1575.3 914.0L1575.4 913.0L1575.5 912.0L1575.6 911.0L1575.8 910.0L1575.9 909.0L1576.0 908.0L1576.2 907.0L1576.3 906.0L1576.4 905.0L1576.6 904.0L1576.7 903.1L1576.8 902.1L1577.0 901.1L1577.1 900.1L1577.2 899.1L1577.4 898.1L1577.5 897.1L1577.6 896.1L1577.7 895.1L1577.9 894.1L1578.0 893.1L1578.1 892.1L1578.2 891.1L1578.3 890.2L1578.4 889.2L1578.5 888.2L1578.6 887.2L1578.7 886.2L1578.8 885.2L1578.9 884.2L1579.0 883.2L1579.1 882.2L1579.2 881.2L1579.3 880.2L1579.4 879.2L1579.5 878.2L1579.6 877.2L1579.7 876.2L1579.8 875.2L1579.9 874.2L1580.0 873.2L1580.1 872.2L1580.1 871.2L1580.2 870.2L1580.3 869.3L1580.4 868.3L1580.5 867.3L1580.5 866.3L1580.6 865.3L1580.7 864.3L1580.7 863.3L1580.8 862.3L1580.9 861.3L1580.9 860.3L1581.0 859.3L1581.1 858.3L1581.1 857.3L1581.2 856.3L1581.3 855.3L1581.3 854.3L1581.4 853.3L1581.5 852.3L1581.5 851.3L1581.6 850.3L1581.7 849.3L1581.8 848.3L1581.8 847.3L1581.9 846.3L1582.0 845.3L1582.1 844.3L1582.2 843.3L1582.2 842.3L1582.3 841.3L1582.4 840.3L1582.5 839.3L1582.6 838.3L1582.6 837.3L1582.7 836.3L1582.8 835.3L1582.9 834.3L1583.0 833.4L1583.1 832.4L1583.1 831.4L1583.2 830.4L1583.3 829.4L1583.4 828.4L1583.4 827.4L1583.5 826.4L1583.6 825.4L1583.6 824.4L1583.7 823.4L1583.8 822.4L1583.9 821.4L1583.9 820.4L1584.0 819.4L1584.1 818.4L1584.1 817.4L1584.2 816.4L1584.3 815.4L1584.3 814.4L1584.4 813.4L1584.5 812.4L1584.5 811.4L1584.6 810.4L1584.7 809.4L1584.7 808.4L1584.8 807.4L1584.9 806.4L1585.0 805.4L1585.1 804.4L1585.1 803.4L1585.2 802.4L1585.3 801.4L1585.4 800.4L1585.5 799.4L1585.5 798.4L1585.6 797.4L1585.7 796.5L1585.8 795.5L1585.9 794.5L1585.9 793.5L1586.0 792.5L1586.1 791.5L1586.2 790.5L1586.3 789.5L1586.3 788.5L1586.4 787.5L1586.5 786.5L1586.6 785.5L1586.6 784.5L1586.7 783.5L1586.8 782.5L1586.9 781.5L1586.9 780.5L1587.0 779.5L1587.1 778.5L1587.1 777.5L1587.2 776.5L1587.3 775.5L1587.3 774.5L1587.4 773.5L1587.4 772.5L1587.5 771.5L1587.6 770.5L1587.7 769.5L1587.7 768.5L1587.8 767.5L1587.9 766.5L1588.0 765.5L1588.0 764.5L1588.1 763.5L1588.2 762.5L1588.3 761.5L1588.4 760.6L1588.5 759.6L1588.6 758.6L1588.7 757.6L1588.8 756.6L1588.9 755.6L1589.0 754.6L1589.1 753.6L1589.2 752.6L1589.3 751.6L1589.4 750.6L1589.5 749.6L1589.6 748.6L1589.7 747.6L1589.8 746.6L1589.9 745.6L1590.0 744.6L1590.1 743.6L1590.2 742.6L1590.3 741.7L1590.4 740.7L1590.5 739.7L1590.6 738.7L1590.7 737.7L1590.8 736.7L1590.9 735.7L1590.9 734.7L1591.0 733.7L1591.1 732.7L1591.2 731.7L1591.3 730.7L1591.4 729.7L1591.5 728.7L1591.6 727.7L1591.8 726.7L1591.9 725.7L1592.0 724.7L1592.2 723.8L1592.4 722.8L1592.6 721.8L1592.9 720.8L1593.2 719.9L1593.6 719.0L1594.0 718.0L1594.4 717.1L1594.8 716.2L1595.3 715.3L1595.7 714.4L1596.1 713.5L1596.5 712.6L1596.8 711.7L1597.1 710.7L1597.4 709.7L1597.7 708.8L1597.9 707.8L1598.2 706.8L1598.4 705.9L1598.7 704.9L1598.9 703.9L1599.1 703.0L1599.4 702.0L1599.6 701.0L1599.8 700.0L1600.0 699.0L1600.1 698.1L1600.3 697.1L1600.5 696.1L1600.6 695.1L1600.7 694.1L1600.9 693.1L1601.0 692.1L1601.1 691.1L1601.2 690.1L1601.4 689.1L1601.5 688.2L1601.6 687.2L1601.8 686.2L1601.9 685.2L1602.1 684.2L1602.3 683.2L1602.5 682.2L1602.7 681.3L1602.9 680.3L1603.1 679.3L1603.4 678.4L1603.7 677.4L1604.1 676.5L1604.7 675.6L1605.5 674.2L1606.4 673.7L1607.4 674.1L1608.4 674.7L1609.3 675.3L1610.0 676.0L1610.5 676.8L1611.0 677.7L1611.4 678.6L1611.7 679.6L1612.0 680.5L1612.3 681.5L1612.6 682.4L1612.9 683.4L1613.1 684.4L1613.4 685.3L1613.6 686.3L1613.8 687.3L1614.1 688.2L1614.3 689.2L1614.5 690.2L1614.7 691.2L1614.9 692.2L1615.1 693.1L1615.3 694.1L1615.5 695.1L1615.7 696.1L1615.8 697.1L1616.0 698.1L1616.2 699.0L1616.3 700.0L1616.5 701.0L1616.7 702.0L1616.8 703.0L1617.0 704.0L1617.1 705.0L1617.2 706.0L1617.4 707.0L1617.5 707.9L1617.6 708.9L1617.7 709.9L1617.8 710.9L1617.9 711.9L1618.1 712.9L1618.2 713.9L1618.3 714.9L1618.4 715.9L1618.5 716.9L1618.6 717.9L1618.8 718.9L1618.9 719.9L1619.1 720.9L1619.2 721.8L1619.4 722.8L1619.5 723.8L1619.7 724.8L1619.8 725.8L1620.0 726.8L1620.2 727.8L1620.3 728.8L1620.5 729.7L1620.7 730.7L1620.8 731.7L1621.0 732.7L1621.2 733.7L1621.4 734.7L1621.6 735.6L1621.8 736.6L1622.0 737.6L1622.2 738.6L1622.5 739.5L1622.7 740.5L1623.0 741.5L1623.3 742.4L1623.5 743.4L1623.7 744.4L1624.0 745.3L1624.2 746.3L1624.4 747.3L1624.6 748.3L1624.7 749.3L1624.9 750.3L1625.1 751.2L1625.3 752.2L1625.4 753.2L1625.6 754.2L1625.7 755.2L1625.9 756.2L1626.0 757.2L1626.2 758.2L1626.3 759.1L1626.5 760.1L1626.6 761.1L1626.7 762.1L1626.9 763.1L1627.0 764.1L1627.2 765.1L1627.3 766.1L1627.4 767.1L1627.6 768.1L1627.7 769.1L1627.8 770.0L1627.9 771.0L1628.0 772.0L1628.2 773.0L1628.3 774.0L1628.4 775.0L1628.5 776.0L1628.5 777.0L1628.6 778.0L1628.7 779.0L1628.8 780.0L1628.8 781.0L1628.9 782.0L1629.0 783.0L1629.0 784.0L1629.1 785.0L1629.1 786.0L1629.2 787.0L1629.3 788.0L1629.3 789.0L1629.4 790.0L1629.4 791.0L1629.5 792.0L1629.5 793.0L1629.6 794.0L1629.6 795.0L1629.7 796.0L1629.7 797.0L1629.8 798.0L1629.9 799.0L1629.9 800.0L1630.0 801.0L1630.0 802.0L1630.1 803.0L1630.2 804.0L1630.2 805.0L1630.3 806.0L1630.4 806.9L1630.4 807.9L1630.5 808.9L1630.6 809.9L1630.6 810.9L1630.7 811.9L1630.8 812.9L1630.8 813.9L1630.9 814.9L1631.0 815.9L1631.0 816.9L1631.1 817.9L1631.1 818.9L1631.2 819.9L1631.3 820.9L1631.3 821.9L1631.4 822.9L1631.4 823.9L1631.5 824.9L1631.5 825.9L1631.6 826.9L1631.6 827.9L1631.7 828.9L1631.7 829.9L1631.7 830.9L1631.8 831.9L1631.8 832.9L1631.9 833.9L1631.9 834.9L1631.9 835.9L1632.0 836.9L1632.0 837.9L1632.1 838.9L1632.1 839.9L1632.2 840.9L1632.2 841.9L1632.3 842.9L1632.3 843.9L1632.4 844.9L1632.4 845.9L1632.5 846.9L1632.5 847.9L1632.6 848.9L1632.7 849.9L1632.7 850.9L1632.8 851.9L1632.9 852.9L1632.9 853.9L1633.0 854.9L1633.1 855.9L1633.2 856.9L1633.2 857.9L1633.3 858.9L1633.4 859.9L1633.5 860.9L1633.5 861.9L1633.6 862.9L1633.7 863.8L1633.7 864.8L1633.8 865.8L1633.9 866.8L1633.9 867.8L1634.0 868.8L1634.1 869.8L1634.1 870.8L1634.2 871.8L1634.2 872.8L1634.3 873.8L1634.4 874.8L1634.4 875.8L1634.5 876.8L1634.5 877.8L1634.6 878.8L1634.6 879.8L1634.7 880.8L1634.7 881.8L1634.8 882.8L1634.9 883.8L1634.9 884.8L1635.0 885.8L1635.0 886.8L1635.1 887.8L1635.2 888.8L1635.3 889.8L1635.4 890.8L1635.4 891.8L1635.5 892.8L1635.6 893.8L1635.7 894.8L1635.8 895.8L1635.9 896.8L1636.0 897.8L1636.1 898.8L1636.2 899.8L1636.3 900.7L1636.4 901.7L1636.6 902.7L1636.7 903.7L1636.8 904.7L1636.9 905.7L1637.0 906.7L1637.1 907.7L1637.2 908.7L1637.3 909.7L1637.4 910.7L1637.5 911.7L1637.6 912.7L1637.7 913.7L1637.7 914.7L1637.8 915.7L1637.9 916.7L1638.0 917.7L1638.1 918.7L1638.2 919.7L1638.3 920.6L1638.4 921.6L1638.5 922.6L1638.6 923.6L1638.7 924.6L1638.9 925.6L1639.0 926.6L1639.1 927.6L1639.2 928.6L1639.3 929.6L1639.5 930.6L1639.6 931.6L1639.7 932.6L1639.8 933.6L1640.0 934.5L1640.2 935.5L1640.3 936.5L1640.6 937.5L1640.9 938.4L1641.3 939.4L1642.1 940.8L1643.1 940.7L1644.1 940.1L1645.1 939.9L1645.8 940.4L1646.4 941.2L1646.9 942.1L1647.3 943.0L1647.6 943.9L1647.9 944.9L1648.1 945.9L1648.3 946.9L1648.4 947.9L1648.6 948.8L1648.7 949.8L1648.8 950.8L1648.9 951.8L1649.1 952.8L1649.2 953.8L1649.3 954.8L1649.4 955.8L1649.5 956.8L1649.6 957.8L1649.8 958.8L1650.1 959.0L1650.3 960.0L1650.4 961.0L1650.5 962.0L1650.7 963.0L1650.8 964.0L1650.9 965.0L1651.0 966.0L1651.1 967.0L1651.3 967.9L1651.4 968.9L1651.5 969.9L1651.6 970.9L1651.7 971.9L1651.8 972.9L1651.9 973.9L1652.0 974.9L1652.1 975.9L1652.2 976.9L1652.3 977.9L1652.4 978.9L1652.5 979.9L1652.6 980.9L1652.7 981.9L1652.8 982.9L1652.8 983.9L1652.9 984.9L1653.0 985.9L1653.1 986.9L1653.2 987.9L1653.2 988.9L1653.3 989.8L1653.4 990.8L1653.5 991.8L1653.5 992.8L1653.6 993.8L1653.7 994.8L1653.7 995.8L1653.8 996.8L1653.9 997.8L1653.9 998.8L1654.0 999.8L1654.1 1000.8L1654.1 1001.8L1654.2 1002.8L1654.3 1003.8L1654.3 1004.8L1654.4 1005.8L1654.5 1006.8L1654.5 1007.8L1654.6 1008.8L1654.7 1009.8L1654.7 1010.8L1654.8 1011.8L1654.9 1012.8L1655.0 1013.8L1655.0 1014.8L1655.1 1015.8L1655.2 1016.8L1655.3 1017.8L1655.4 1018.8L1655.4 1019.8L1655.5 1020.8L1655.6 1021.8L1655.7 1022.8L1655.8 1023.8L1655.9 1024.8L1656.0 1025.8L1656.0 1026.7L1656.1 1027.7L1656.2 1028.7L1656.3 1029.7L1656.4 1030.7L1656.5 1031.7L1656.6 1032.7L1656.7 1033.7L1656.8 1034.7L1656.9 1035.7L1657.0 1036.7L1657.1 1037.7L1657.2 1038.7L1657.3 1039.7L1657.4 1040.7L1657.5 1041.7L1657.6 1042.7L1657.7 1043.7L1657.8 1044.7L1657.9 1045.7L1658.0 1046.6L1658.1 1047.6L1658.2 1048.6L1658.3 1049.6L1658.4 1050.6L1658.5 1051.6L1658.6 1052.6L1658.7 1053.6L1658.7 1054.6L1658.8 1055.6L1658.9 1056.6L1659.0 1057.6L1659.1 1058.6L1659.2 1059.6L1659.3 1060.6L1659.4 1061.6L1659.5 1062.6L1659.6 1063.6L1659.6 1064.6L1659.7 1065.6L1659.8 1066.6L1659.9 1067.6L1660.0 1068.6L1660.1 1069.6L1660.2 1070.6L1660.3 1071.5L1660.4 1072.5L1660.5 1073.5L1660.6 1074.5L1660.8 1075.5L1661.1 1076.5L1661.6 1077.3L1662.4 1077.0L1662.9 1076.2L1663.3 1075.2L1663.5 1074.3L1663.8 1073.3L1663.9 1072.3L1664.1 1071.3L1664.2 1070.3L1664.3 1069.3L1664.5 1068.4L1664.6 1067.4L1664.7 1066.4L1664.7 1065.4L1664.8 1064.4L1664.9 1063.4L1665.0 1062.4L1665.1 1061.4L1665.2 1060.4L1665.3 1059.4L1665.4 1058.4L1665.5 1057.4L1665.5 1056.4L1665.6 1055.4L1665.7 1054.4L1665.8 1053.4L1665.9 1052.4L1666.0 1051.4L1666.1 1050.4L1666.2 1049.4L1666.3 1048.4L1666.3 1047.4L1666.4 1046.4L1666.5 1045.4L1666.6 1044.4L1666.7 1043.5L1666.8 1042.5L1666.9 1041.5L1667.0 1040.5L1667.1 1039.5L1667.2 1038.5L1667.3 1037.5L1667.4 1036.5L1667.5 1035.5L1667.6 1034.5L1667.7 1033.5L1667.8 1032.5L1667.9 1031.5L1668.0 1030.5L1668.1 1029.5L1668.3 1028.5L1668.4 1027.5L1668.6 1026.6L1668.8 1025.6L1669.0 1024.6L1669.3 1023.6L1669.6 1022.7L1670.0 1021.8L1670.7 1021.2L1671.6 1021.3L1672.2 1022.0L1672.7 1022.8L1673.1 1023.8L1673.4 1024.7L1673.7 1025.7L1674.0 1026.6L1674.3 1027.6L1674.6 1028.5L1675.0 1029.5L1675.4 1030.3L1676.0 1031.0L1676.8 1031.7L1677.6 1032.6L1678.3 1033.2L1678.9 1033.8L1679.4 1034.7L1679.7 1035.7L1680.0 1036.6L1680.3 1037.6L1680.5 1038.6L1680.6 1039.6L1680.8 1040.6L1681.0 1041.5L1681.2 1042.5L1681.3 1043.5L1681.5 1044.5L1681.7 1045.5L1681.9 1046.5L1682.0 1047.5L1682.2 1048.4L1682.4 1049.4L1682.5 1050.4L1682.7 1051.4L1682.9 1052.4L1683.0 1053.4L1683.2 1054.4L1683.3 1055.3L1683.5 1056.3L1683.7 1057.3L1683.8 1058.3L1684.0 1059.3L1684.1 1060.3L1684.3 1061.3L1684.4 1062.3L1684.6 1063.2L1684.7 1064.2L1684.9 1065.2L1685.0 1066.2L1685.2 1067.2L1685.3 1068.2L1685.5 1069.2L1685.6 1070.2L1685.8 1071.2L1685.9 1072.1L1686.0 1073.1L1686.2 1074.1L1686.3 1075.1L1686.5 1076.1L1686.6 1077.1L1686.7 1078.1L1686.9 1079.1L1687.0 1080.1L1687.1 1081.1L1687.3 1082.1L1687.4 1083.0L1687.5 1084.0L1687.7 1085.0L1687.8 1086.0L1687.9 1087.0L1688.1 1088.0L1688.2 1089.0L1688.3 1090.0L1688.5 1091.0L1688.6 1092.0L1688.8 1093.0L1688.9 1093.9L1689.1 1094.9L1689.2 1095.9L1689.4 1096.9L1689.5 1097.9L1689.7 1098.9L1689.8 1099.9L1690.0 1100.9L1690.1 1101.9L1690.3 1102.8L1690.4 1103.8L1690.6 1104.8L1690.7 1105.8L1690.9 1106.8L1691.0 1107.8L1691.2 1108.8L1691.3 1109.8L1691.5 1110.7L1691.6 1111.7L1691.8 1112.7L1692.0 1113.7L1692.1 1114.7L1692.3 1115.7L1692.5 1116.7L1692.7 1117.6L1692.9 1118.6L1693.1 1119.6L1693.3 1120.6L1693.6 1121.5L1693.8 1122.5L1694.1 1123.5L1694.4 1124.4L1694.8 1125.3L1695.3 1126.2L1695.9 1127.0L1696.6 1127.5L1697.5 1128.1L1698.5 1128.1L1699.3 1127.3L1699.9 1126.5L1700.6 1125.7L1701.3 1124.9L1702.1 1124.3L1703.1 1124.2L1704.1 1124.0L1705.1 1123.6L1706.1 1123.9L1707.1 1124.1L1708.1 1124.1L1708.9 1123.7L1709.5 1122.8L1709.9 1121.9L1710.2 1121.0L1710.6 1120.1L1711.0 1119.1L1711.5 1118.3L1712.1 1117.4L1712.8 1116.7L1713.6 1116.0L1714.3 1115.4L1715.1 1114.7L1715.7 1114.0L1716.4 1113.3L1716.9 1112.4L1717.4 1111.6L1717.9 1110.7L1718.5 1109.9L1719.1 1109.4L1719.9 1109.0L1720.7 1108.4L1721.5 1107.8L1722.3 1107.2L1723.1 1106.6L1724.0 1105.8L1724.8 1105.0L1725.6 1104.4L1726.5 1103.9L1727.3 1103.5L1728.1 1102.8L1728.6 1101.9L1729.0 1101.0L1729.3 1100.0L1729.5 1099.1L1729.7 1098.1L1729.8 1097.1L1730.0 1096.1L1730.2 1095.1L1730.4 1094.2L1730.8 1093.3L1731.6 1093.1L1732.2 1093.8L1732.5 1094.7L1732.7 1095.7L1732.8 1096.7L1733.0 1097.7L1733.1 1098.7L1733.2 1099.7L1733.4 1100.7L1733.5 1101.7L1733.6 1102.7L1733.7 1103.6L1733.9 1104.6L1734.0 1105.6L1734.1 1106.6L1734.2 1107.6L1734.3 1108.6L1734.4 1109.6L1734.5 1110.6L1734.7 1111.6L1734.8 1112.6L1734.9 1113.6L1735.0 1114.6L1735.2 1115.6L1735.3 1116.5L1735.5 1117.5L1735.7 1118.5L1736.0 1119.5L1736.2 1120.4L1736.5 1121.4L1736.8 1122.4L1737.1 1123.3L1737.4 1124.3L1737.8 1125.2L1738.1 1126.1L1738.5 1127.1L1738.8 1128.0L1739.2 1128.9L1739.7 1129.8L1740.3 1130.4L1740.6 1131.3L1740.8 1132.3L1741.0 1133.3L1741.2 1134.3L1741.4 1135.2L1741.6 1136.2L1741.8 1137.2L1742.0 1138.2L1742.2 1139.2L1742.5 1140.1L1742.7 1141.1L1743.0 1142.1L1743.3 1143.0L1743.7 1143.9L1744.1 1144.8L1744.6 1145.7L1745.2 1146.5L1745.9 1147.3L1746.5 1148.0L1747.2 1148.7L1747.9 1149.5L1748.7 1150.5L1749.6 1151.1L1750.5 1150.1L1751.3 1149.2L1752.0 1148.5L1752.6 1147.7L1753.0 1146.8L1753.3 1145.9L1753.5 1144.9L1753.6 1143.9L1753.8 1142.9L1754.1 1142.0L1754.6 1141.1L1755.1 1140.2L1755.8 1139.5L1756.5 1139.2L1757.5 1139.0L1758.4 1138.9L1759.1 1139.4L1759.8 1140.1L1760.5 1140.9L1761.2 1141.6L1761.9 1142.3L1762.6 1143.1L1763.1 1144.0L1763.4 1144.9L1763.6 1145.9L1763.8 1146.9L1764.2 1147.7L1765.0 1148.5L1765.9 1148.9L1766.8 1149.3L1767.8 1149.8L1768.8 1149.8L1769.7 1149.5L1770.7 1149.7L1771.7 1149.7L1772.7 1149.1L1773.6 1148.7L1774.6 1148.5L1775.5 1148.1L1776.5 1147.6L1777.4 1147.3L1778.3 1147.0L1779.2 1146.5L1780.2 1145.9L1780.9 1145.6L1781.5 1144.8L1781.8 1143.8L1782.0 1142.9L1782.2 1141.9L1782.4 1140.9L1782.6 1139.9L1782.8 1138.9L1783.1 1138.0L1783.5 1137.1L1784.0 1136.2L1784.5 1135.3L1785.0 1134.5L1785.4 1133.5L1785.6 1132.6L1785.8 1131.6L1785.9 1130.6L1786.0 1129.6L1786.1 1128.6L1786.3 1127.6L1786.4 1126.6L1786.7 1125.7L1787.0 1124.7L1787.4 1123.8L1787.8 1122.9L1788.5 1121.8L1789.2 1122.9L1789.5 1123.8L1789.8 1124.7L1790.1 1125.7L1790.4 1126.7L1790.7 1127.6L1790.9 1128.6L1791.2 1129.6L1791.4 1130.5L1791.6 1131.5L1791.8 1132.5L1792.0 1133.5L1792.1 1134.5L1792.2 1135.5L1792.4 1136.4L1792.7 1137.4L1793.2 1138.2L1793.9 1139.0L1794.7 1139.6L1795.4 1140.3L1796.0 1141.1L1796.4 1142.1L1796.6 1143.0L1796.9 1144.0L1797.4 1144.8L1798.1 1145.7L1799.0 1146.0L1800.0 1146.2L1800.9 1146.5L1801.8 1146.9L1802.7 1147.4L1803.6 1148.1L1804.5 1148.8L1805.5 1149.2L1806.4 1149.4L1807.4 1149.5L1808.4 1149.0L1809.4 1148.2L1810.2 1147.8L1810.9 1147.2L1811.3 1146.3L1811.6 1145.4L1811.9 1144.4L1812.3 1143.5L1812.8 1142.6L1813.4 1141.7L1814.2 1142.0L1814.6 1142.9L1814.8 1143.9L1815.0 1144.8L1815.3 1145.8L1815.7 1146.7L1816.4 1148.1L1817.4 1147.5L1818.3 1146.6L1819.2 1146.1L1820.2 1146.9L1821.0 1147.5L1821.7 1148.1L1822.4 1148.9L1823.1 1149.6L1824.1 1149.1L1825.0 1148.5L1825.9 1148.4L1826.6 1148.1L1827.3 1147.5L1827.8 1146.7L1828.4 1145.9L1829.1 1145.0L1829.9 1144.8L1830.8 1144.6L1831.7 1144.2L1832.5 1143.2L1833.0 1142.3L1833.4 1141.4L1833.7 1140.4L1834.0 1139.5L1834.3 1138.5L1834.6 1137.6L1835.0 1136.6L1835.4 1135.7L1835.7 1134.8L1836.3 1134.1L1837.1 1134.5L1837.6 1135.4L1837.9 1136.4L1838.1 1137.3L1838.3 1138.3L1838.4 1139.3L1838.4 1140.3L1838.5 1141.3L1838.5 1142.3L1838.6 1143.3L1838.6 1144.3L1838.8 1145.3L1839.0 1146.3L1839.3 1147.2L1839.6 1148.2L1840.1 1149.1L1840.7 1149.9L1841.6 1149.8L1842.2 1148.8L1842.7 1148.0L1843.4 1147.7L1844.1 1147.6L1844.4 1148.6L1844.6 1149.6L1844.9 1150.6L1845.2 1151.5L1845.5 1152.5L1845.8 1153.4L1846.1 1154.4L1846.4 1155.3L1846.7 1156.3L1847.1 1157.2L1847.2 1157.5"/>
</defs>
<g fill="none" stroke-linejoin="round" stroke-linecap="butt">
<g stroke-width="4.30" shape-rendering="crispEdges">
<use href="#c-ezno" stroke="#ff0000"/>
<use href="#c-e" stroke="#000000"/>
</g>
<g stroke-width="3.00">
<use href="#c-ezno" stroke="#ff0000"/>
<use href="#c-e" stroke="#000000"/>
</g>
</g>
<g font-size="56.46">
<text transform="translate(0 1324.00) scale(0.9930 1)" x="53.25 81.91 109.05 136.29">4000</text>
<text transform="translate(0 1324.00) scale(0.9930 1)" x="310.90 338.88 366.87 394.16">3500</text>
<text transform="translate(0 1324.00) scale(0.9930 1)" x="568.69 596.63 624.78 652.07">3000</text>
<text transform="translate(0 1324.00) scale(0.9930 1)" x="827.02 853.45 881.59 909.94">2500</text>
<text transform="translate(0 1324.00) scale(0.9930 1)" x="1084.98 1112.39 1139.45 1167.65">2000</text>
<text transform="translate(0 1324.00) scale(0.9930 1)" x="1341.14 1369.06 1397.26 1424.46">1500</text>
<text transform="translate(0 1324.00) scale(0.9930 1)" x="1598.75 1627.94 1655.13 1682.27">1000</text>
</g>
<text transform="translate(0 1392.90) scale(1.0697 1)" font-size="68.70" x="656.16 719.09 751.14 784.98 815.05 852.56 890.24 944.14 978.35 1008.62 1031.50 1047.02 1067.77 1097.68">Wavenumber (cm<tspan font-size="45.70" x="1150.94 1164.32" dy="-26.70">-1</tspan><tspan x="1185.81" dy="26.70">)</tspan></text>
<text transform="translate(74.00 0) rotate(-90) scale(1.0664 1)" font-size="68.70" x="-764.29 -714.90 -681.20 -654.69 -618.96 -595.65 -561.00 -528.93 -494.16 -466.89">Absorbance</text>
<text transform="translate(0 603.00) scale(1.1053 1)" font-size="68.70" x="834.59 872.83 913.86 948.34">EZnO</text>
<text transform="translate(0 1127.70) scale(0.9791 1)" font-size="68.70" x="1018.44">E</text>
</svg>
</body>
</html>
